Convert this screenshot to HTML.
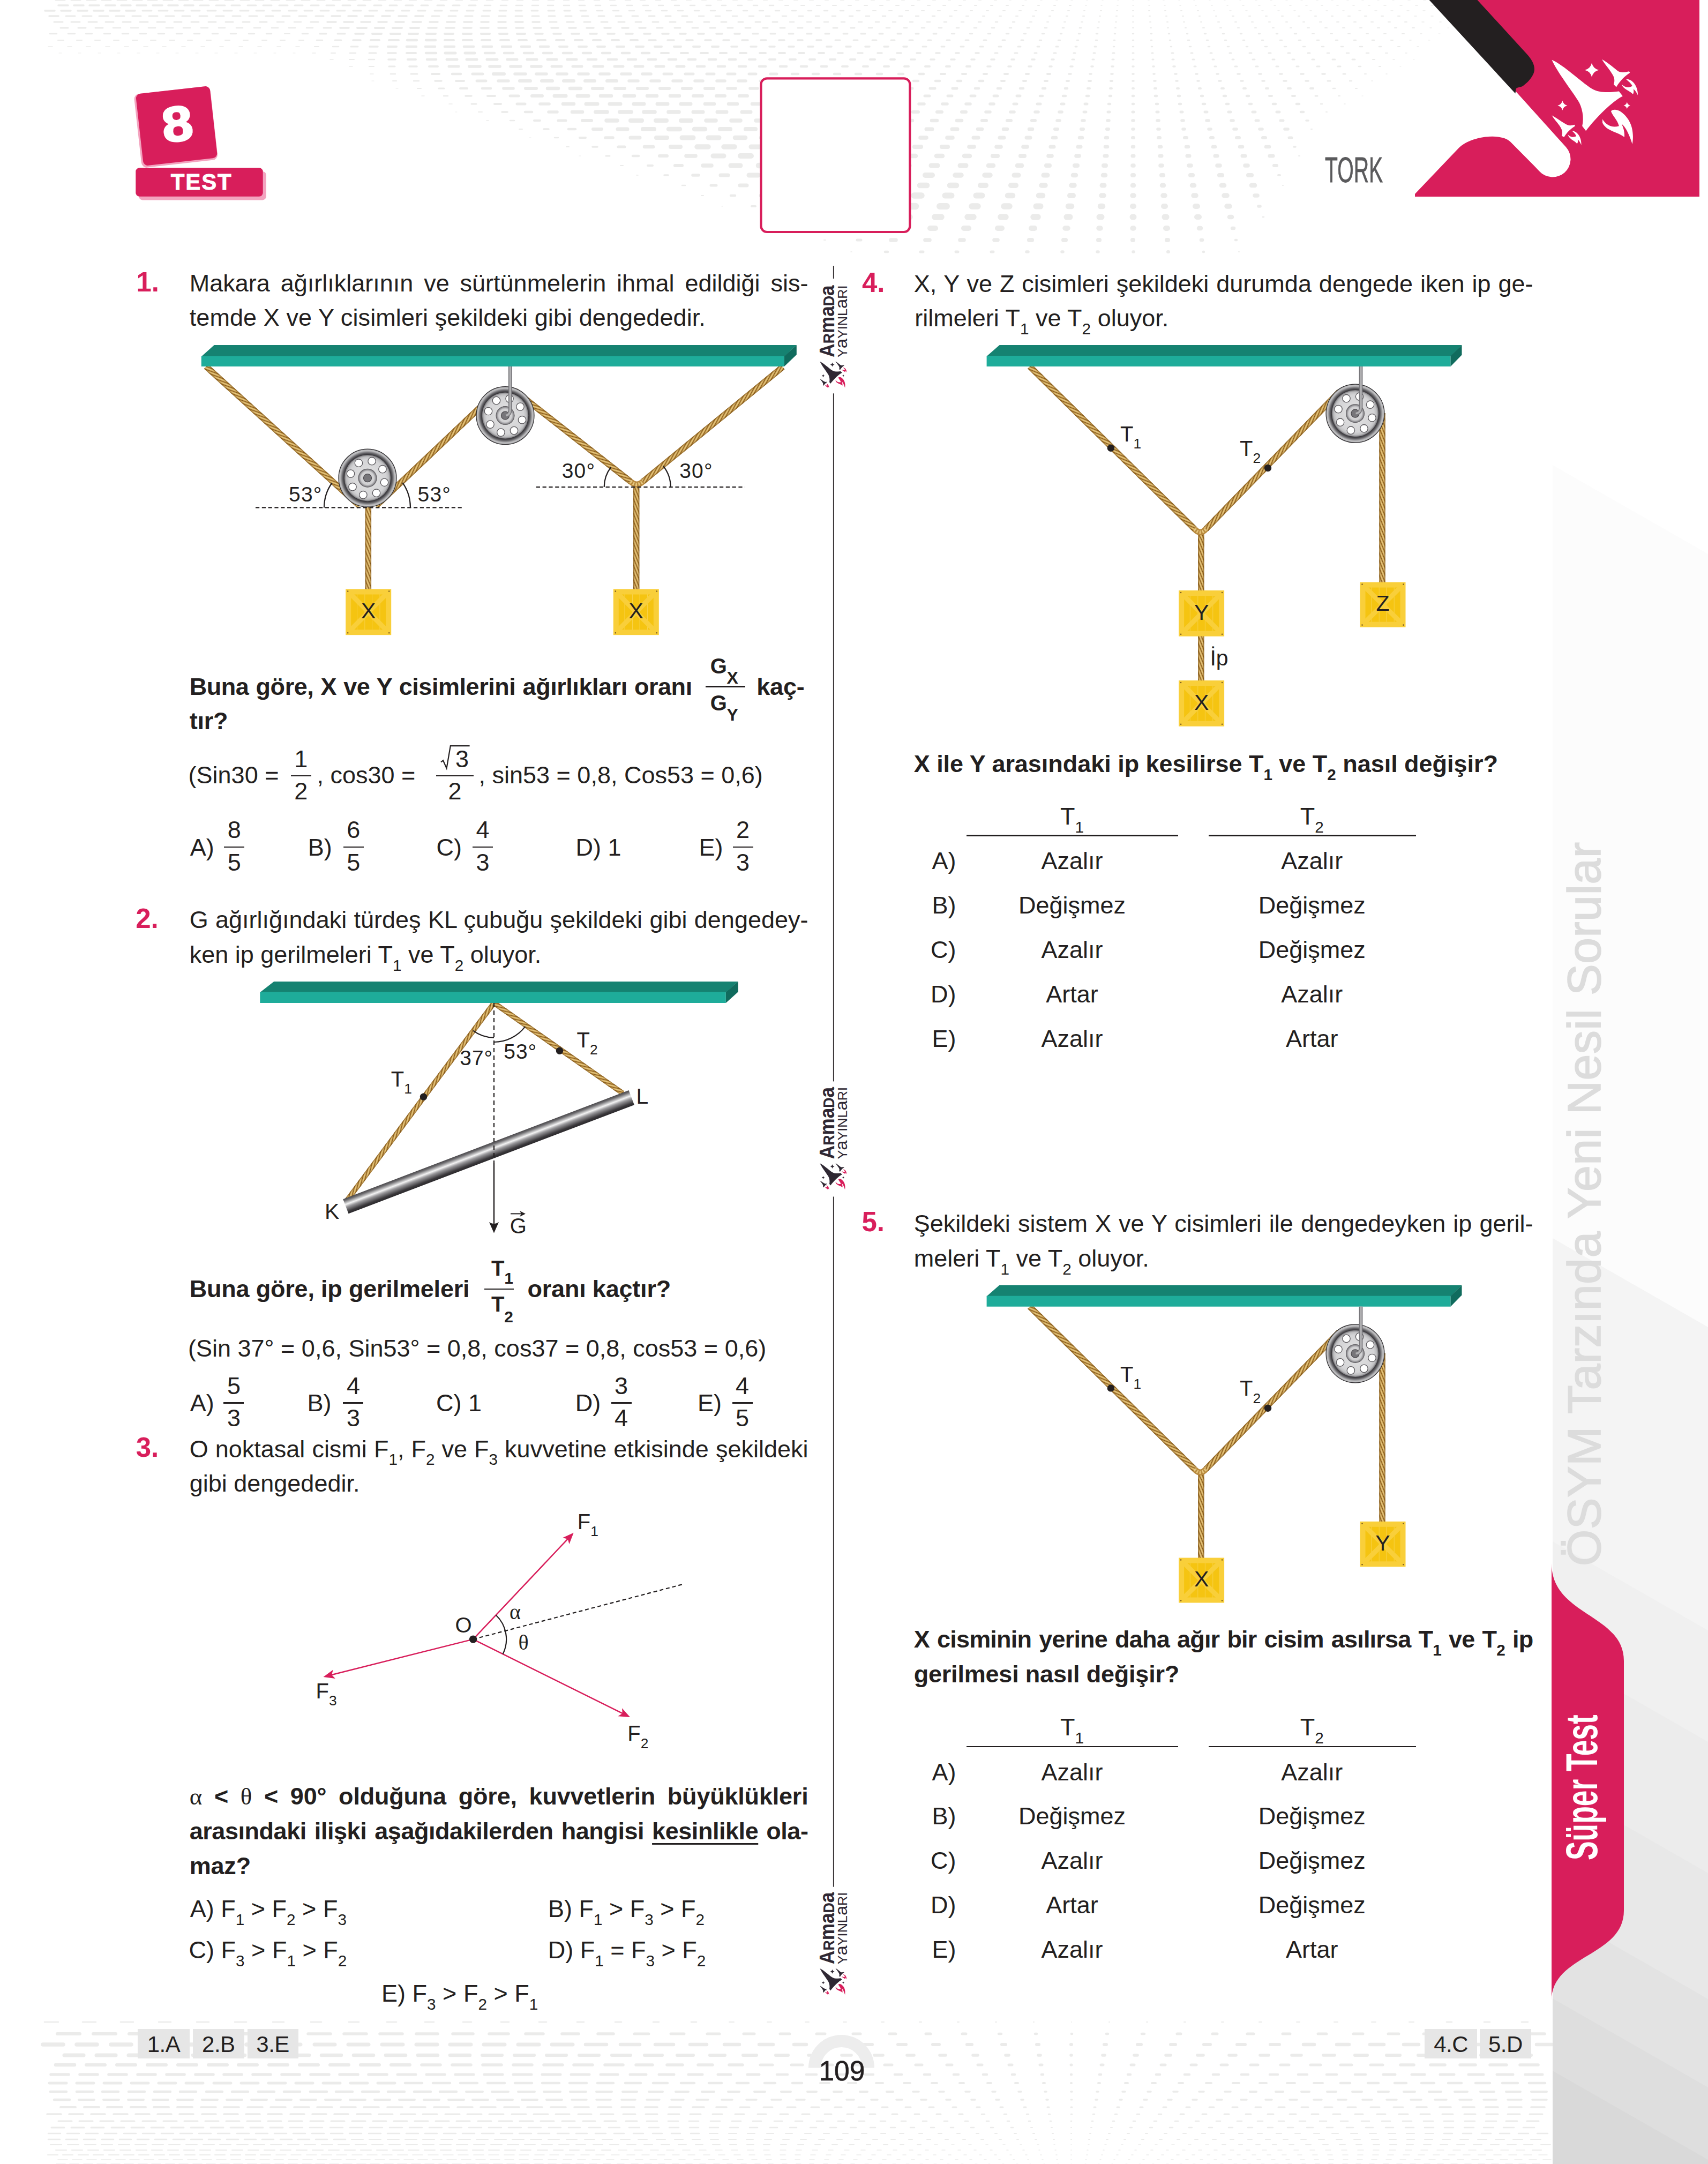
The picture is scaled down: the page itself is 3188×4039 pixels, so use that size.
<!DOCTYPE html>
<html lang="tr"><head><meta charset="utf-8"><title>Tork Test 8</title>
<style>
html,body{margin:0;padding:0;background:#fff}
body{width:3188px;height:4039px;position:relative;overflow:hidden;font-family:"Liberation Sans",sans-serif;color:#231f20}
.t{position:absolute;white-space:nowrap;font-family:"Liberation Sans",sans-serif;color:#231f20;letter-spacing:0px}
.j{white-space:nowrap;text-align:justify;text-align-last:justify}
.sb{font-size:0.66em;position:relative;top:0.5em;line-height:0}
.bar{position:absolute;background:#231f20}
svg{position:absolute;left:0;top:0}
svg text{font-family:"Liberation Sans",sans-serif;fill:#231f20}
</style></head><body>
<svg width="3188" height="4039" viewBox="0 0 3188 4039"><g fill="none" stroke="#ebebea" stroke-linecap="round"><path d="M2743 0h3M2771 0h3M2800 0h3M2829 0h3M2730 10h3M2760 10h3M2789 10h3M2717 20h3M2747 20h3M2778 20h3M2702 30h3M2734 30h3M2765 30h2M2719 41h2M2702 52h2M2685 63h3M2666 75h3M110 99h5M146 99h5M183 99h5M219 99h5M256 99h5M292 99h5M328 99h5M365 99h5M401 99h5M438 99h5M474 99h5M511 99h4M547 99h4M2638 111h2M2613 124h2M694 151h4M739 165h4M2542 179h2M850 209h3M988 257h3M1081 291h3M1347 385h2" stroke-width="1.0"/><path d="M1884 0h3M1913 0h3M1942 0h3M1971 0h3M1999 0h3M2028 0h2M2057 0h2M2086 0h2M2114 0h2M2143 0h2M2171 0h2M2200 0h2M2228 0h2M2257 0h2M2285 0h2M2314 0h2M2343 0h3M2371 0h3M2400 0h3M2428 0h3M2457 0h3M2485 0h3M2514 0h3M2542 0h3M2571 0h3M2599 0h3M2628 0h4M2657 0h4M2685 0h4M2714 0h4M2026 10h2M2055 10h2M2085 10h2M2114 10h2M2144 10h2M2173 10h2M2202 10h2M2231 10h2M2261 10h2M2290 10h2M2319 10h3M2349 10h3M2378 10h3M2407 10h3M2437 10h3M2466 10h3M2495 10h3M2525 10h3M2554 10h3M2583 10h4M2613 10h4M2642 10h4M2671 10h4M2701 10h4M2265 20h2M2295 20h3M2325 20h3M2355 20h3M2385 20h3M2415 20h3M2445 20h3M2475 20h3M2506 20h3M2536 20h4M2566 20h4M2596 20h4M2626 20h4M2656 20h4M2686 20h4M2640 30h4M2671 30h4M2654 41h4M2687 41h3M2669 52h3M2651 63h3M2631 75h3M90 87h8M126 87h8M161 87h8M197 87h8M232 87h8M268 87h8M303 87h7M339 87h7M375 87h7M410 87h7M446 87h7M481 87h7M517 87h7M552 87h7M2645 87h3M583 99h6M2623 99h3M616 111h6M2600 111h3M652 124h6M691 138h6M2587 138h2M2560 151h2M787 179h5M838 194h6M2509 194h2M908 225h4M1188 327h3M1588 470h2" stroke-width="1.5"/><path d="M1281 0h9M1310 0h8M1339 0h8M1368 0h8M1396 0h8M1425 0h7M1454 0h7M1482 0h7M1511 0h7M1540 0h6M1569 0h6M1597 0h6M1626 0h6M1655 0h5M1683 0h5M1712 0h5M1741 0h5M1770 0h4M1798 0h4M1827 0h4M1856 0h4M1465 10h7M1495 10h7M1524 10h7M1554 10h7M1583 10h6M1613 10h6M1642 10h6M1672 10h6M1701 10h5M1731 10h5M1760 10h5M1790 10h4M1819 10h4M1849 10h4M1878 10h4M1908 10h3M1937 10h3M1967 10h3M1996 10h3M1629 20h6M1659 20h6M1690 20h6M1720 20h5M1750 20h5M1781 20h5M1811 20h4M1841 20h4M1872 20h4M1902 20h4M1932 20h3M1963 20h3M1993 20h3M2023 20h2M2054 20h2M2084 20h2M2114 20h2M2144 20h2M2174 20h2M2204 20h2M2235 20h2M1772 30h5M1803 30h5M1834 30h4M1865 30h4M1896 30h4M1927 30h4M1958 30h3M1990 30h3M2021 30h3M2052 30h2M2083 30h2M2114 30h2M2145 30h2M2176 30h2M2207 30h2M2238 30h2M2269 30h2M2300 30h3M2331 30h3M2362 30h3M2392 30h3M2423 30h3M2454 30h3M2485 30h3M2516 30h4M2547 30h4M2578 30h4M2609 30h4M1922 41h4M1954 41h3M1986 41h3M2018 41h3M2050 41h2M2082 41h2M2114 41h2M2146 41h2M2178 41h2M2209 41h2M2241 41h2M2273 41h3M2305 41h3M2336 41h3M2368 41h3M2400 41h3M2432 41h3M2463 41h4M2495 41h4M2527 41h4M2559 41h4M2591 41h4M2622 41h4M2048 52h3M2081 52h2M2114 52h2M2147 52h2M2179 52h2M2212 52h2M2245 52h3M2277 52h3M2310 52h3M2342 52h3M2375 52h3M2408 52h3M2440 52h4M2473 52h4M2506 52h4M2538 52h4M2571 52h4M2603 52h4M2636 52h4M531 63h10M2449 63h4M2483 63h4M2516 63h4M2550 63h4M2583 63h4M2617 63h4M108 75h11M143 75h10M177 75h10M212 75h10M247 75h10M281 75h10M316 75h10M350 75h9M385 75h9M420 75h9M454 75h9M489 75h9M523 75h9M558 75h9M2596 75h4M587 87h8M2609 87h4M618 99h8M2586 99h4M652 111h9M2562 111h4M689 124h9M2574 124h3M2547 138h3M733 151h7M779 165h7M2530 165h3M2498 179h3M893 209h7M2475 209h2M969 241h6M2447 241h2M1057 274h5M2424 291h2M1158 309h5M2394 346h1M1309 365h4M1538 448h3M2312 470h1" stroke-width="2.0"/><path d="M707 0h13M736 0h13M764 0h13M793 0h13M822 0h12M851 0h12M879 0h12M908 0h12M937 0h11M965 0h11M994 0h11M1023 0h11M1052 0h10M1080 0h10M1109 0h10M1138 0h10M1167 0h10M1195 0h9M1224 0h9M1253 0h9M904 10h12M934 10h12M963 10h12M993 10h12M1022 10h11M1052 10h11M1081 10h11M1111 10h10M1140 10h10M1170 10h10M1200 10h10M1229 10h9M1259 10h9M1288 10h9M1318 10h9M1347 10h8M1377 10h8M1406 10h8M1436 10h8M1114 20h11M1144 20h11M1174 20h10M1205 20h10M1235 20h10M1265 20h10M1296 20h9M1326 20h9M1356 20h9M1387 20h8M1417 20h8M1447 20h8M1478 20h8M1508 20h7M1538 20h7M1568 20h7M1599 20h6M1304 30h10M1335 30h9M1367 30h9M1398 30h9M1429 30h8M1460 30h8M1491 30h8M1522 30h7M1553 30h7M1585 30h7M1616 30h7M1647 30h6M1678 30h6M1709 30h6M1740 30h5M517 41h13M549 41h13M1474 41h8M1506 41h8M1538 41h8M1570 41h7M1602 41h7M1634 41h7M1666 41h6M1698 41h6M1730 41h6M1762 41h5M1794 41h5M1826 41h5M1858 41h4M1890 41h4M211 52h14M244 52h14M277 52h13M310 52h13M342 52h13M375 52h13M408 52h12M441 52h12M474 52h12M507 52h12M539 52h12M572 52h12M1621 52h7M1654 52h7M1687 52h6M1720 52h6M1752 52h6M1785 52h5M1818 52h5M1851 52h5M1884 52h4M1917 52h4M1950 52h4M1983 52h3M2015 52h3M93 63h13M127 63h13M160 63h12M194 63h12M228 63h12M261 63h12M295 63h12M329 63h11M362 63h11M396 63h11M430 63h11M464 63h11M497 63h10M564 63h11M1776 63h6M1810 63h5M1844 63h5M1878 63h5M1911 63h4M1945 63h4M1979 63h3M2013 63h3M2046 63h3M2080 63h2M2114 63h2M2148 63h2M2181 63h2M2215 63h2M2248 63h3M2282 63h3M2315 63h3M2349 63h3M2382 63h3M2416 63h4M591 75h11M1940 75h4M1975 75h4M2010 75h3M2045 75h3M2079 75h2M2114 75h2M2148 75h2M2183 75h2M2217 75h3M2252 75h3M2286 75h3M2320 75h3M2355 75h3M2389 75h4M2424 75h4M2458 75h4M2493 75h4M2527 75h4M2561 75h4M621 87h11M2078 87h2M2114 87h2M2149 87h2M2185 87h2M2220 87h3M2255 87h3M2291 87h3M2326 87h3M2361 87h4M2397 87h4M2432 87h4M2467 87h4M2503 87h4M2538 87h5M2574 87h4M653 99h11M2477 99h4M2513 99h5M2550 99h5M688 111h11M2536 124h4M729 138h9M772 151h10M2519 151h4M2488 165h4M828 179h8M2465 194h3M952 225h8M1035 257h7M1273 346h6M2357 405h2M1490 426h4" stroke-width="2.5"/><path d="M104 0h17M133 0h17M162 0h17M190 0h17M219 0h17M248 0h17M276 0h17M305 0h17M334 0h17M362 0h16M391 0h16M420 0h16M449 0h16M477 0h15M506 0h15M535 0h15M563 0h15M592 0h14M621 0h14M650 0h14M678 0h14M373 10h17M403 10h17M432 10h16M462 10h16M491 10h16M521 10h16M550 10h15M580 10h15M609 10h15M639 10h15M668 10h14M698 10h14M727 10h14M757 10h14M786 10h13M816 10h13M845 10h13M875 10h13M266 20h17M296 20h17M326 20h17M357 20h16M387 20h16M417 20h16M448 20h16M478 20h15M508 20h15M539 20h15M568 20h15M598 20h16M629 20h15M659 20h15M689 20h15M720 20h15M750 20h14M780 20h14M811 20h14M841 20h13M871 20h13M902 20h13M932 20h13M962 20h12M992 20h12M1023 20h12M1053 20h11M1083 20h11M123 30h17M154 30h17M185 30h17M216 30h16M247 30h16M278 30h16M309 30h16M340 30h15M372 30h15M403 30h15M434 30h15M465 30h15M496 30h14M527 30h14M558 30h14M589 30h15M806 30h14M837 30h14M868 30h14M899 30h14M931 30h13M962 30h13M993 30h13M1024 30h12M1055 30h12M1086 30h12M1117 30h11M1149 30h11M1180 30h11M1211 30h11M1242 30h10M1273 30h10M101 41h16M133 41h16M165 41h16M197 41h15M229 41h15M261 41h15M293 41h15M325 41h14M357 41h14M389 41h14M421 41h14M453 41h13M485 41h13M580 41h14M1026 41h13M1058 41h13M1090 41h12M1122 41h12M1154 41h12M1186 41h11M1218 41h11M1250 41h11M1282 41h10M1314 41h10M1346 41h10M1378 41h9M1410 41h9M1442 41h9M113 52h14M146 52h14M178 52h14M604 52h14M1226 52h11M1259 52h11M1292 52h11M1325 52h10M1358 52h10M1391 52h10M1424 52h9M1456 52h9M1489 52h9M1522 52h8M1555 52h8M1588 52h7M597 63h12M630 63h14M1405 63h10M1438 63h9M1472 63h9M1506 63h9M1540 63h8M1574 63h8M1607 63h8M1641 63h7M1675 63h7M1709 63h6M1742 63h6M625 75h12M1559 75h9M1593 75h8M1628 75h8M1663 75h7M1697 75h7M1732 75h6M1767 75h6M1802 75h6M1836 75h5M1871 75h5M1906 75h4M655 87h13M1722 87h7M1757 87h6M1793 87h6M1829 87h6M1864 87h5M1900 87h5M1936 87h4M1971 87h4M2007 87h3M2043 87h3M689 99h13M1857 99h5M1894 99h5M1931 99h4M1967 99h4M2004 99h3M2041 99h3M2077 99h3M2114 99h2M2150 99h2M2187 99h3M2223 99h3M2259 99h3M2295 99h3M2332 99h4M2368 99h4M2404 99h4M2441 99h4M2001 111h4M2039 111h3M2076 111h3M2114 111h2M2151 111h2M2188 111h3M2226 111h3M2263 111h3M2300 111h3M2338 111h4M2375 111h4M2412 111h4M2449 111h4M2487 111h5M2524 111h5M726 124h11M2229 124h3M2267 124h3M2305 124h4M2344 124h4M2382 124h4M2420 124h4M2458 124h5M2497 124h5M767 138h12M2507 138h4M2478 151h5M819 165h10M2455 179h4M880 194h9M1131 291h7" stroke-width="3.0"/><path d="M109 10h18M138 10h18M167 10h18M197 10h18M226 10h18M255 10h18M285 10h18M314 10h18M344 10h17M84 20h18M114 20h18M145 20h18M175 20h18M205 20h18M235 20h17M92 30h17M619 30h16M650 30h16M681 30h16M713 30h15M744 30h15M775 30h15M611 41h16M642 41h17M674 41h17M706 41h16M738 41h16M770 41h16M802 41h15M834 41h15M866 41h15M898 41h14M930 41h14M962 41h14M994 41h13M635 52h16M799 52h16M832 52h16M865 52h15M897 52h15M930 52h15M963 52h14M996 52h14M1029 52h13M1062 52h13M1095 52h13M1128 52h12M1161 52h12M1193 52h12M663 63h16M999 63h14M1033 63h14M1067 63h14M1101 63h13M1134 63h13M1168 63h13M1202 63h12M1236 63h12M1269 63h11M1303 63h11M1337 63h11M1371 63h10M659 75h14M1211 75h13M1246 75h12M1281 75h12M1316 75h11M1350 75h11M1385 75h11M1420 75h10M1454 75h10M1489 75h9M1524 75h9M690 87h15M1365 87h11M1401 87h11M1436 87h10M1472 87h10M1508 87h10M1543 87h9M1579 87h9M1615 87h8M1650 87h8M1686 87h7M724 99h15M1564 99h9M1601 99h9M1638 99h8M1674 99h8M1711 99h7M1747 99h7M1784 99h6M1821 99h6M725 111h13M1700 111h8M1737 111h7M1775 111h7M1813 111h6M1850 111h6M1888 111h5M1926 111h5M1963 111h4M764 124h14M1843 124h6M1882 124h5M1920 124h5M1959 124h4M1998 124h4M2037 124h3M2075 124h3M2114 124h2M2152 124h2M2190 124h3M1995 138h4M2034 138h3M2074 138h3M2114 138h2M2153 138h2M2193 138h3M2232 138h3M2271 138h3M2310 138h4M2350 138h4M2389 138h4M2428 138h5M2468 138h5M812 151h12M2114 151h2M2154 151h3M2195 151h3M2235 151h3M2275 151h4M2316 151h4M2356 151h4M2396 151h5M2437 151h5M869 179h11M937 209h10M2438 225h4M1015 241h9M1106 274h9M2415 274h3M1240 327h7M1445 405h5" stroke-width="3.5"/><path d="M667 52h17M700 52h17M733 52h17M766 52h16M695 63h17M729 63h18M763 63h17M796 63h17M830 63h16M864 63h16M898 63h16M932 63h15M965 63h15M692 75h16M726 75h18M830 75h17M864 75h17M899 75h16M934 75h16M968 75h15M1003 75h15M1038 75h15M1073 75h14M1107 75h14M1142 75h13M1177 75h13M724 87h16M1044 87h15M1080 87h15M1115 87h14M1151 87h14M1187 87h14M1222 87h13M1258 87h13M1294 87h12M1329 87h12M759 99h17M1234 99h14M1271 99h13M1308 99h13M1344 99h12M1381 99h12M1418 99h11M1454 99h11M1491 99h10M1528 99h10M761 111h15M1398 111h12M1436 111h11M1474 111h11M1511 111h10M1549 111h10M1587 111h9M1624 111h9M1662 111h8M801 124h16M1572 124h10M1611 124h9M1650 124h9M1688 124h8M1727 124h8M1766 124h7M1804 124h7M806 138h14M1756 138h8M1796 138h7M1836 138h6M1875 138h6M1915 138h5M1955 138h5M851 151h15M1869 151h6M1910 151h5M1950 151h5M1991 151h4M2032 151h4M2073 151h3M859 165h13M2030 165h4M2072 165h3M2114 165h2M2155 165h3M2197 165h3M2238 165h3M2280 165h4M2321 165h4M2363 165h4M2404 165h5M2446 165h5M910 179h14M2369 179h5M2412 179h5M923 194h12M997 225h11M1082 257h11M1209 309h9M2386 327h3M1403 385h7" stroke-width="4.0"/><path d="M760 75h18M795 75h18M759 87h18M794 87h18M830 87h18M866 87h18M901 87h17M937 87h17M973 87h16M1008 87h16M795 99h19M905 99h18M941 99h17M978 99h17M1014 99h16M1051 99h16M1088 99h15M1124 99h15M1161 99h14M1198 99h14M797 111h17M1097 111h16M1135 111h16M1172 111h15M1210 111h14M1248 111h14M1285 111h13M1323 111h13M1361 111h12M1301 124h14M1340 124h13M1379 124h13M1417 124h12M1456 124h12M1495 124h11M1533 124h10M844 138h16M1478 138h12M1517 138h11M1557 138h11M1597 138h10M1637 138h9M1677 138h9M1716 138h8M1664 151h9M1705 151h9M1746 151h8M1787 151h7M1828 151h7M900 165h16M1820 165h7M1862 165h6M1904 165h6M1946 165h5M1988 165h4M1941 179h5M1984 179h5M2028 179h4M2071 179h3M2114 179h2M2156 179h3M2199 179h3M2242 179h3M2284 179h4M2327 179h4M2069 194h3M2114 194h2M2158 194h3M2201 194h3M2245 194h4M2289 194h4M2332 194h4M2376 194h5M2420 194h5M980 209h13M2428 209h5M1061 241h13M1181 291h11M1364 365h8M2306 448h2M1652 470h5M2246 470h1" stroke-width="4.5"/><path d="M831 99h19M868 99h18M834 111h19M871 111h19M909 111h19M947 111h18M984 111h18M1022 111h17M1059 111h17M838 124h18M1030 124h18M1069 124h17M1108 124h17M1147 124h16M1185 124h15M1224 124h15M1263 124h14M882 138h19M1239 138h15M1279 138h15M1319 138h14M1358 138h14M1398 138h13M1438 138h12M890 151h17M1419 151h13M1460 151h13M1501 151h12M1542 151h11M1583 151h11M1624 151h10M1568 165h11M1610 165h11M1652 165h10M1694 165h9M1736 165h9M1778 165h8M952 179h16M1726 179h9M1769 179h8M1812 179h8M1855 179h7M1898 179h6M965 194h15M1892 194h6M1936 194h6M1981 194h5M2025 194h4M2023 209h4M2068 209h3M2114 209h2M2159 209h3M2204 209h3M2249 209h4M2293 209h4M2338 209h5M2383 209h5M1042 225h14M2344 225h5M2390 225h5M2406 257h5M1154 274h12M1327 346h10M1600 448h7M1718 470h5M1784 470h4M1850 470h4" stroke-width="5.0"/><path d="M876 124h20M914 124h19M953 124h19M992 124h18M961 138h20M1001 138h19M1040 138h18M1080 138h18M1120 138h17M1160 138h17M1199 138h16M930 151h19M1174 151h17M1215 151h16M1256 151h16M1297 151h15M1338 151h15M1378 151h14M940 165h18M1358 165h15M1400 165h14M1442 165h13M1484 165h13M1526 165h12M1510 179h13M1553 179h12M1596 179h11M1639 179h11M1682 179h10M1008 194h17M1670 194h10M1715 194h10M1759 194h9M1803 194h8M1848 194h7M1024 209h16M1840 209h8M1886 209h7M1932 209h6M1977 209h5M1973 225h5M2020 225h4M2067 225h3M2114 225h2M2160 225h3M2206 225h3M2252 225h4M2298 225h4M2114 241h2M2161 241h3M2208 241h3M2256 241h4M2303 241h5M2351 241h5M2398 241h6M1130 257h14M1293 327h11M2349 385h3M1551 426h8M1916 470h3M1982 470h2M2048 470h2M2115 470h1" stroke-width="5.5"/><path d="M921 138h20M970 151h20M1011 151h20M1052 151h19M1092 151h18M1133 151h18M981 165h20M1106 165h19M1148 165h18M1190 165h18M1232 165h17M1274 165h16M1316 165h16M993 179h19M1294 179h17M1337 179h16M1380 179h15M1423 179h14M1467 179h14M1493 194h14M1537 194h13M1582 194h12M1626 194h11M1658 209h11M1704 209h10M1749 209h9M1795 209h8M1087 225h17M1833 225h8M1880 225h7M1926 225h6M1107 241h16M1969 241h5M2018 241h4M2066 241h3M2114 257h2M2162 257h3M2211 257h4M2260 257h4M2308 257h5M2357 257h5M1231 291h14M1260 309h13M2378 309h5M1504 405h9M2180 470h1" stroke-width="6.0"/><path d="M1022 165h20M1064 165h20M1121 179h20M1165 179h19M1208 179h18M1251 179h17M1051 194h20M1316 194h17M1360 194h16M1404 194h15M1449 194h15M1068 209h19M1476 209h15M1521 209h14M1567 209h13M1613 209h12M1646 225h12M1692 225h11M1739 225h10M1786 225h9M1825 241h8M1873 241h7M1921 241h6M1965 257h6M2015 257h5M2064 257h3M1203 274h16M2063 274h4M2114 274h2M2164 274h3M2214 274h4M2264 274h4M2314 274h5M2363 274h6M1420 365h12M1461 385h10M2300 426h3M2242 448h2" stroke-width="6.5"/><path d="M1035 179h21M1078 179h20M1094 194h21M1138 194h20M1183 194h19M1227 194h19M1271 194h18M1294 209h18M1339 209h17M1385 209h16M1430 209h15M1458 225h16M1505 225h15M1552 225h14M1599 225h13M1153 241h18M1633 241h13M1681 241h12M1729 241h11M1777 241h10M1177 257h17M1817 257h9M1866 257h8M1916 257h7M1961 274h6M2012 274h5M2062 291h4M2114 291h2M2165 291h3M2216 291h4M2268 291h4M2319 291h5M2370 291h6M1345 327h14M1381 346h13" stroke-width="7.0"/><path d="M1112 209h21M1157 209h21M1202 209h20M1248 209h19M1132 225h20M1318 225h18M1365 225h17M1411 225h17M1488 241h16M1536 241h15M1584 241h14M1669 257h12M1718 257h11M1768 257h10M1809 274h9M1860 274h8M1910 274h7M1281 291h17M1957 291h6M2009 291h5M1312 309h16M2114 309h2M2166 309h3M2219 309h4M2272 309h5M2324 309h5M2342 365h5M1663 448h9M1727 448h8M1792 448h7M1856 448h6" stroke-width="7.5"/><path d="M1177 225h21M1224 225h20M1271 225h19M1200 241h21M1344 241h19M1392 241h18M1440 241h17M1225 257h20M1520 257h16M1570 257h14M1619 257h13M1252 274h18M1656 274h13M1707 274h12M1758 274h11M1853 291h9M1905 291h7M1953 309h6M2006 309h5M2060 309h4M2114 327h2M2168 327h3M2222 327h4M2276 327h5M2330 327h6M1921 448h5M1985 448h4M2050 448h2M2114 448h1M2178 448h2" stroke-width="8.0"/><path d="M1248 241h21M1296 241h20M1372 257h19M1421 257h18M1471 257h17M1555 274h15M1605 274h14M1696 291h13M1748 291h11M1800 291h10M1845 309h9M1899 309h8M2003 327h5M2059 327h4M2114 346h2M2169 346h3M2225 346h4M2280 346h5M2336 346h6M1518 385h13M1563 405h12M2295 405h4M1611 426h11M2238 426h3" stroke-width="8.5"/><path d="M1273 257h21M1322 257h20M1402 274h19M1453 274h18M1504 274h17M1331 291h20M1591 291h15M1644 291h14M1364 309h18M1738 309h12M1792 309h11M1398 327h17M1893 327h8M1948 327h7M1436 346h16M2057 346h4M1476 365h15" stroke-width="9.0"/><path d="M1301 274h21M1351 274h20M1435 291h19M1487 291h18M1539 291h16M1631 309h15M1684 309h13M1783 327h11M1838 327h10M1944 346h7M2000 346h5M2056 365h4M2114 365h2M2171 365h3M2228 365h4M2285 365h5M2290 385h5M1988 426h5M2051 426h3M2114 426h2" stroke-width="9.5"/><path d="M1382 291h20M1469 309h19M1523 309h17M1577 309h16M1672 327h14M1727 327h13M1830 346h10M1887 346h9M1997 365h6M2114 385h2M2172 385h3M2231 385h4M2234 405h4M1673 426h11M1736 426h10M1799 426h9M1862 426h8M1925 426h6M2176 426h3" stroke-width="10.0"/><path d="M1416 309h20M1562 327h17M1617 327h16M1717 346h13M1773 346h12M1881 365h9M1939 365h7M1994 385h6M2054 385h4" stroke-width="10.5"/><path d="M1452 327h20M1507 327h19M1491 346h18M1603 346h17M1660 346h15M1532 365h17M1764 365h12M1822 365h11M1576 385h16M1934 385h8M1623 405h14M1991 405h6M2052 405h4M2114 405h2M2174 405h3" stroke-width="11.0"/><path d="M1547 346h18M1706 365h14M1814 385h11M1874 385h10M1684 405h14M1745 405h12M1806 405h11M1868 405h9M1929 405h8" stroke-width="11.5"/><path d="M1589 365h18M1647 365h16M1754 385h13" stroke-width="12.0"/><path d="M1634 385h17M1694 385h15" stroke-width="12.5"/></g><g fill="none" stroke="#ebebea" stroke-linecap="round"><path d="M1614 4039h7M1640 4039h6M1666 4039h6M1691 4039h6M1717 4039h5M1743 4039h5M1768 4039h4M1794 4039h4M1820 4039h4M1845 4039h3M1871 4039h3M1897 4039h3M1922 4039h2M1948 4039h2M1974 4039h2M1999 4039h1M2025 4039h2M2050 4039h2M2075 4039h2M2101 4039h3M2126 4039h3M2151 4039h3M2177 4039h4M2202 4039h4M2227 4039h4M2253 4039h5M2278 4039h5M2303 4039h6M2329 4039h6M2354 4039h6M2379 4039h7" stroke-width="1.0"/><path d="M105 4039h17M130 4039h17M156 4039h17M181 4039h17M207 4039h17M232 4039h17M258 4039h17M283 4039h17M309 4039h17M334 4039h17M360 4039h17M385 4039h17M411 4039h17M436 4039h17M462 4039h17M487 4039h17M513 4039h17M538 4039h17M564 4039h17M589 4039h17M615 4039h17M640 4039h17M666 4039h17M691 4039h17M717 4039h17M742 4039h17M768 4039h17M793 4039h17M819 4039h17M844 4039h17M870 4039h17M895 4039h17M921 4039h17M946 4039h16M972 4039h16M998 4039h16M1023 4039h15M1049 4039h15M1075 4039h14M1100 4039h14M1126 4039h14M1152 4039h13M1178 4039h13M1203 4039h13M1229 4039h12M1255 4039h12M1280 4039h12M1306 4039h11M1332 4039h11M1357 4039h10M1383 4039h10M1409 4039h10M1434 4039h9M1460 4039h9M1486 4039h9M1511 4039h8M1537 4039h8M1563 4039h7M1588 4039h7M2404 4039h7M2430 4039h7M2455 4039h8M2480 4039h8M2506 4039h9M2531 4039h9M2556 4039h9M2582 4039h10M2607 4039h10M2632 4039h10M2658 4039h11M2683 4039h11M2708 4039h12M2734 4039h12M2759 4039h12M2784 4039h13M2810 4039h13M2835 4039h13M2860 4039h14M108 4031h18M135 4031h18M162 4031h18M189 4031h18M216 4031h18M242 4031h18M269 4031h18M296 4031h18M323 4031h18M350 4031h18M377 4031h18M404 4031h18M431 4031h18M458 4031h18M485 4031h18M511 4031h18M538 4031h18M565 4031h18M592 4031h18M619 4031h18M646 4031h18M673 4031h18M700 4031h18M727 4031h18M754 4031h18M780 4031h18M807 4031h18M834 4031h18M861 4031h18M888 4031h18M915 4031h18M942 4031h17M969 4031h17M996 4031h17M1023 4031h16M1051 4031h16M1078 4031h15M1105 4031h15M1132 4031h14M1159 4031h14M1186 4031h14M1213 4031h13M1240 4031h13M1267 4031h12M1295 4031h12M1322 4031h12M1349 4031h11M1376 4031h11M1403 4031h10M1430 4031h10M1457 4031h10M1484 4031h9M1511 4031h9M1539 4031h8M1566 4031h8M1593 4031h7M1620 4031h7M1647 4031h7M1674 4031h6M1701 4031h6M1728 4031h5M1755 4031h5M1783 4031h5M1810 4031h4M1837 4031h4M1864 4031h3M1891 4031h3M1918 4031h2M1945 4031h2M1972 4031h2M1999 4031h1M2026 4031h2M2053 4031h2M2079 4031h2M2106 4031h3M2133 4031h3M2160 4031h4M2186 4031h4M2213 4031h5M2240 4031h5M2266 4031h5M2293 4031h6M2320 4031h6M2346 4031h7M2373 4031h7M2400 4031h7M2427 4031h8M2453 4031h8M2480 4031h9M2507 4031h9M2533 4031h10M2560 4031h10M2587 4031h10M2613 4031h11M2640 4031h11M2667 4031h12M2693 4031h12M2720 4031h12M2747 4031h13M2774 4031h13M2800 4031h14M2827 4031h14M2854 4031h14M2880 4031h15M515 4022h19M543 4022h19M572 4022h19M600 4022h19M628 4022h19M657 4022h19M685 4022h19M713 4022h19M742 4022h19M770 4022h19M799 4022h19M827 4022h19M855 4022h19M884 4022h19M912 4022h19M941 4022h19M969 4022h18M998 4022h18M1026 4022h17M1055 4022h17M1084 4022h16M1112 4022h16M1141 4022h15M1170 4022h15M1198 4022h14M1227 4022h14M1255 4022h13M1284 4022h13M1313 4022h12M1341 4022h12M1370 4022h12M1398 4022h11M1427 4022h11M1456 4022h10M1484 4022h10M1513 4022h9M1542 4022h9M1570 4022h8M1599 4022h8M1627 4022h7M1656 4022h7M1685 4022h6M1713 4022h6M1742 4022h5M1770 4022h5M1799 4022h5M1828 4022h4M1856 4022h4M1885 4022h3M1914 4022h3M1942 4022h2M1971 4022h2M1999 4022h1M2028 4022h2M2056 4022h2M2084 4022h3M2112 4022h3M2140 4022h4M2168 4022h4M2196 4022h5M2225 4022h5M2253 4022h5M2281 4022h6M2309 4022h6M2337 4022h7M2365 4022h7M2393 4022h8M2422 4022h8M2450 4022h9M2478 4022h9M2506 4022h10M2534 4022h10M2562 4022h11M2590 4022h11M2619 4022h12M2647 4022h12M2675 4022h12M2703 4022h13M2731 4022h13M2759 4022h14M2788 4022h14M2816 4022h15M2844 4022h15M2872 4022h16M1154 4013h16M1184 4013h15M1214 4013h15M1244 4013h14M1274 4013h14M1305 4013h13M1335 4013h13M1365 4013h12M1395 4013h12M1425 4013h11M1456 4013h11M1486 4013h10M1516 4013h10M1546 4013h9M1576 4013h9M1607 4013h8M1637 4013h8M1667 4013h7M1697 4013h7M1727 4013h6M1758 4013h6M1788 4013h5M1818 4013h4M1848 4013h4M1879 4013h3M1909 4013h3M1939 4013h2M1969 4013h2M1999 4013h1M2029 4013h2M2059 4013h2M2088 4013h3M2118 4013h3M2148 4013h4M2177 4013h4M2207 4013h5M2237 4013h6M2266 4013h6M2296 4013h7M2326 4013h7M2356 4013h8M2385 4013h8M2415 4013h9M2445 4013h9M2474 4013h10M2504 4013h10M2534 4013h11M2563 4013h11M2593 4013h12M2623 4013h12M2652 4013h13M2682 4013h13M2712 4013h14M2741 4013h14M2771 4013h15M2801 4013h15M2830 4013h16M1744 4003h6M1776 4003h5M1808 4003h5M1840 4003h4M1872 4003h4M1904 4003h3M1936 4003h3M1967 4003h2M1999 4003h1M2031 4003h2M2062 4003h3M2093 4003h3M2125 4003h4M2156 4003h4M2187 4003h5M2218 4003h5M2250 4003h6" stroke-width="1.5"/><path d="M89 4022h19M117 4022h19M146 4022h19M174 4022h19M203 4022h19M231 4022h19M259 4022h19M288 4022h19M316 4022h19M345 4022h19M373 4022h19M401 4022h19M430 4022h19M458 4022h19M486 4022h19M104 4013h20M134 4013h20M164 4013h20M194 4013h20M224 4013h20M254 4013h20M283 4013h20M313 4013h20M343 4013h20M373 4013h20M403 4013h20M433 4013h20M463 4013h20M493 4013h20M523 4013h20M553 4013h20M583 4013h20M613 4013h20M643 4013h20M673 4013h20M703 4013h20M733 4013h20M762 4013h20M792 4013h20M822 4013h20M852 4013h20M882 4013h20M912 4013h20M942 4013h20M972 4013h19M1003 4013h19M1033 4013h18M1063 4013h18M1093 4013h17M1123 4013h17M2860 4013h17M94 4003h21M126 4003h21M158 4003h21M189 4003h21M221 4003h21M252 4003h21M284 4003h21M315 4003h21M347 4003h21M379 4003h21M410 4003h21M442 4003h21M473 4003h21M505 4003h21M537 4003h21M568 4003h21M600 4003h21M631 4003h21M663 4003h21M694 4003h21M726 4003h21M758 4003h21M789 4003h21M821 4003h21M852 4003h21M884 4003h21M916 4003h21M947 4003h21M979 4003h20M1011 4003h20M1043 4003h19M1075 4003h18M1107 4003h18M1138 4003h17M1170 4003h17M1202 4003h16M1234 4003h16M1266 4003h15M1298 4003h14M1330 4003h14M1362 4003h13M1394 4003h13M1425 4003h12M1457 4003h11M1489 4003h11M1521 4003h10M1553 4003h10M1585 4003h9M1617 4003h8M1649 4003h8M1680 4003h7M1712 4003h7M2281 4003h7M2312 4003h7M2344 4003h8M2375 4003h8M2406 4003h9M2437 4003h10M2469 4003h10M2500 4003h11M2531 4003h11M2563 4003h12M2594 4003h13M2625 4003h13M2657 4003h14M2688 4003h14M2719 4003h15M2750 4003h16M2782 4003h16M2813 4003h17M2844 4003h17M2876 4003h18M656 3993h22M689 3993h22M723 3993h22M756 3993h22M789 3993h22M823 3993h22M856 3993h22M889 3993h22M923 3993h22M956 3993h22M990 3993h21M1023 3993h21M1057 3993h20M1091 3993h19M1124 3993h19M1158 3993h18M1191 3993h17M1225 3993h17M1259 3993h16M1292 3993h15M1326 3993h15M1360 3993h14M1393 3993h13M1427 3993h13M1461 3993h12M1494 3993h11M1528 3993h11M1562 3993h10M1595 3993h9M1629 3993h9M1663 3993h8M1696 3993h7M1730 3993h7M1764 3993h6M1797 3993h5M1831 3993h5M1865 3993h4M1898 3993h3M1932 3993h3M1966 3993h2M1999 3993h1M2032 3993h2M2065 3993h3M2098 3993h3M2131 3993h4M2164 3993h5M2197 3993h5M2230 3993h6M2263 3993h7M2296 3993h7M2329 3993h8M2362 3993h9M2395 3993h9M2428 3993h10M2461 3993h11M2494 3993h11M2527 3993h12M2560 3993h13M2593 3993h13M2626 3993h14M2659 3993h15M2692 3993h15M2725 3993h16M2758 3993h17M2791 3993h17M2824 3993h18M2857 3993h19M1324 3982h16M1360 3982h15M1395 3982h14M1431 3982h13M1466 3982h13M1502 3982h12M1537 3982h11M1573 3982h10M1608 3982h10M1644 3982h9M1679 3982h8M1715 3982h7M1751 3982h7M1786 3982h6M1822 3982h5M1857 3982h4M1893 3982h4M1928 3982h3M1964 3982h2M1999 3982h1M2034 3982h2M2069 3982h3M2104 3982h4M2138 3982h4M2173 3982h5M2208 3982h6M2243 3982h7M2278 3982h7M2312 3982h8M2347 3982h9M2382 3982h10M2417 3982h10M2452 3982h11M2486 3982h12M2521 3982h13M2556 3982h13M2591 3982h14M2625 3982h15M2660 3982h16M1924 3971h3M1962 3971h2M1999 3971h1M2036 3971h2M2073 3971h3M1361 3774h9M1432 3774h8M1503 3774h7M1574 3774h6M1645 3774h5M1716 3774h4M1787 3774h3M1858 3774h2M1929 3774h1M2000 3774h0M2070 3774h1M2140 3774h2M2210 3774h3M2280 3774h4M2350 3774h5M2420 3774h6M2490 3774h7M2560 3774h8M2630 3774h9" stroke-width="2.0"/><path d="M90 3993h22M123 3993h22M156 3993h22M190 3993h22M223 3993h22M256 3993h22M289 3993h22M323 3993h22M356 3993h22M389 3993h22M423 3993h22M456 3993h22M489 3993h22M523 3993h22M556 3993h22M589 3993h22M623 3993h22M90 3982h23M125 3982h23M160 3982h23M195 3982h23M231 3982h23M266 3982h23M301 3982h23M336 3982h23M371 3982h23M406 3982h23M442 3982h23M477 3982h23M512 3982h23M547 3982h23M582 3982h23M617 3982h23M652 3982h23M688 3982h23M723 3982h23M758 3982h23M793 3982h23M828 3982h23M863 3982h23M899 3982h23M934 3982h23M969 3982h23M1004 3982h22M1040 3982h22M1075 3982h21M1111 3982h20M1146 3982h19M1182 3982h19M1218 3982h18M1253 3982h17M1289 3982h16M2695 3982h16M2730 3982h17M2765 3982h18M2799 3982h19M2834 3982h19M2869 3982h20M541 3971h24M578 3971h24M616 3971h24M653 3971h24M690 3971h24M727 3971h24M764 3971h24M801 3971h24M838 3971h24M875 3971h24M912 3971h24M949 3971h24M986 3971h24M1024 3971h23M1061 3971h22M1099 3971h22M1136 3971h21M1174 3971h20M1211 3971h19M1249 3971h18M1287 3971h17M1324 3971h17M1362 3971h16M1399 3971h15M1437 3971h14M1474 3971h13M1512 3971h12M1549 3971h12M1587 3971h11M1624 3971h10M1662 3971h9M1699 3971h8M1737 3971h7M1774 3971h6M1812 3971h6M1849 3971h5M1887 3971h4M2109 3971h4M2146 3971h5M2183 3971h6M2219 3971h6M2256 3971h7M2293 3971h8M2329 3971h9M2366 3971h10M2403 3971h11M2439 3971h12M2476 3971h12M2513 3971h13M2549 3971h14M2586 3971h15M2623 3971h16M2659 3971h17M2696 3971h17M2733 3971h18M2769 3971h19M2806 3971h20M2843 3971h21M1207 3959h20M1247 3959h19M1286 3959h18M1326 3959h18M1366 3959h17M1405 3959h16M1445 3959h15M1484 3959h14M1524 3959h13M1564 3959h12M1603 3959h11M1643 3959h10M1682 3959h9M1722 3959h8M1762 3959h7M1801 3959h6M1841 3959h5M1880 3959h4M1920 3959h3M1960 3959h2M1999 3959h1M2038 3959h2M2077 3959h3M2115 3959h4M2154 3959h5M2193 3959h6M2231 3959h7M2270 3959h8M2309 3959h9M2347 3959h10M2386 3959h11M2425 3959h12M2463 3959h13M2502 3959h14M2541 3959h15M2579 3959h16M2618 3959h17M2657 3959h18M2695 3959h18M2734 3959h19M2773 3959h20M1832 3946h6M1874 3946h5M1916 3946h4M1957 3946h3M1999 3946h2M2040 3946h3M2081 3946h4M2122 3946h5M2162 3946h6M83 3774h26M154 3774h25M225 3774h24M296 3774h23M367 3774h23M438 3774h22M509 3774h21M580 3774h20M651 3774h19M722 3774h18M793 3774h17M864 3774h16M935 3774h15M1006 3774h14M1077 3774h13M1148 3774h12M1219 3774h11M1290 3774h10M2700 3774h10M2770 3774h11M2840 3774h12" stroke-width="2.5"/><path d="M96 3971h24M133 3971h24M170 3971h24M208 3971h24M245 3971h24M282 3971h24M319 3971h24M356 3971h24M393 3971h24M430 3971h24M467 3971h24M504 3971h24M109 3959h25M148 3959h25M187 3959h25M226 3959h25M266 3959h25M305 3959h25M344 3959h25M383 3959h25M422 3959h25M461 3959h25M500 3959h25M539 3959h25M579 3959h25M618 3959h25M657 3959h25M696 3959h25M735 3959h25M774 3959h25M813 3959h25M852 3959h25M892 3959h25M931 3959h25M970 3959h25M1009 3959h25M1049 3959h24M1088 3959h23M1128 3959h22M1168 3959h21M2811 3959h21M2850 3959h22M707 3946h26M748 3946h27M789 3946h27M831 3946h27M872 3946h27M913 3946h27M955 3946h27M996 3946h27M1037 3946h26M1079 3946h25M1121 3946h24M1163 3946h23M1205 3946h22M1247 3946h21M1288 3946h20M1330 3946h18M1372 3946h17M1414 3946h16M1456 3946h15M1497 3946h14M1539 3946h13M1581 3946h12M1623 3946h11M1665 3946h10M1707 3946h9M1748 3946h8M1790 3946h7M2203 3946h7M2244 3946h8M2285 3946h9M2325 3946h10M2366 3946h11M2407 3946h12M2448 3946h13M2488 3946h14M2529 3946h15M2570 3946h16M2611 3946h17M2651 3946h18M2692 3946h20M2733 3946h21M2774 3946h22M2814 3946h23M2855 3946h24M1381 3933h18M1425 3933h17M1469 3933h16M1514 3933h15M1558 3933h13M1602 3933h12M1646 3933h11M1690 3933h10M1734 3933h9M1778 3933h7M1823 3933h6M1867 3933h5M1911 3933h4M1955 3933h3M1999 3933h2M2042 3933h3M2085 3933h4M2128 3933h5M2171 3933h6M2214 3933h7M2257 3933h9M2300 3933h10M2343 3933h11M2386 3933h12M2429 3933h13M2472 3933h15M2515 3933h16M2558 3933h17M2601 3933h18M1999 3919h2" stroke-width="3.0"/><path d="M88 3946h26M129 3946h26M170 3946h26M212 3946h26M253 3946h26M294 3946h26M335 3946h26M377 3946h26M418 3946h26M459 3946h26M500 3946h26M542 3946h26M583 3946h26M624 3946h26M666 3946h26M375 3933h28M418 3933h28M462 3933h28M505 3933h28M549 3933h28M592 3933h28M636 3933h28M679 3933h28M723 3933h28M766 3933h28M810 3933h28M854 3933h28M897 3933h28M941 3933h28M984 3933h28M1028 3933h28M1072 3933h27M1116 3933h25M1160 3933h24M1204 3933h23M1249 3933h22M1293 3933h21M1337 3933h19M2644 3933h19M2687 3933h21M2730 3933h22M2773 3933h23M2816 3933h24M2858 3933h25M1067 3919h28M1113 3919h27M1160 3919h26M1207 3919h24M1253 3919h23M1300 3919h22M1347 3919h20M1393 3919h19M1440 3919h18M1486 3919h16M1533 3919h15M1580 3919h14M1626 3919h12M1673 3919h11M1719 3919h10M1766 3919h8M1813 3919h7M1859 3919h6M1906 3919h4M1953 3919h3M2045 3919h3M2090 3919h4M2135 3919h6M2180 3919h7M2226 3919h8M2271 3919h10M2316 3919h11M2362 3919h12M2407 3919h14M2452 3919h15M2497 3919h16M2543 3919h18M2588 3919h19M2633 3919h20M2678 3919h22M2724 3919h23M2769 3919h24M2814 3919h26M2860 3919h27M1704 3904h11M1753 3904h9M1802 3904h8M1852 3904h6M1901 3904h5M1950 3904h3M1999 3904h2M2047 3904h3M2095 3904h5M2142 3904h6M2190 3904h8M2238 3904h9M2286 3904h11" stroke-width="3.5"/><path d="M113 3933h28M157 3933h28M200 3933h28M244 3933h28M287 3933h28M331 3933h28M147 3919h29M193 3919h29M239 3919h29M285 3919h29M331 3919h29M377 3919h29M423 3919h29M469 3919h29M515 3919h29M561 3919h29M607 3919h29M653 3919h29M699 3919h29M745 3919h29M791 3919h29M837 3919h29M882 3919h29M928 3919h29M974 3919h29M1020 3919h29M870 3904h31M918 3904h31M967 3904h31M1015 3904h31M1064 3904h30M1113 3904h29M1162 3904h27M1211 3904h26M1261 3904h24M1310 3904h23M1359 3904h21M1408 3904h20M1458 3904h18M1507 3904h17M1556 3904h15M1605 3904h14M1655 3904h12M2333 3904h12M2381 3904h14M2429 3904h15M2477 3904h17M2524 3904h18M2572 3904h20M2620 3904h21M2667 3904h23M2715 3904h24M2763 3904h26M2811 3904h27M2858 3904h29M1531 3888h17M1583 3888h15M1635 3888h13M1687 3888h12M1739 3888h10M1791 3888h8M1843 3888h7M1895 3888h5M1947 3888h3M1999 3888h1M2050 3888h3M2100 3888h5M2150 3888h7M2200 3888h8M2251 3888h10M2301 3888h12M2351 3888h13M2402 3888h15M2452 3888h17" stroke-width="4.0"/><path d="M101 3919h29M94 3904h30M143 3904h30M191 3904h30M240 3904h30M288 3904h30M336 3904h30M385 3904h30M433 3904h30M482 3904h30M530 3904h30M579 3904h31M627 3904h31M676 3904h31M724 3904h31M773 3904h31M821 3904h31M756 3888h32M808 3888h32M859 3888h32M910 3888h32M961 3888h32M1012 3888h32M1063 3888h32M1115 3888h30M1167 3888h29M1219 3888h27M1271 3888h25M1323 3888h24M1375 3888h22M1427 3888h20M1479 3888h18M2502 3888h18M2553 3888h20M2603 3888h22M2653 3888h24M2703 3888h25M2754 3888h27M2804 3888h29M2854 3888h30M1450 3872h20M1505 3872h19M1560 3872h17M1615 3872h15M1670 3872h13M1725 3872h11M1780 3872h9M1835 3872h7M1889 3872h5M1944 3872h3M1999 3872h1M2052 3872h3M2105 3872h5M2158 3872h7M2211 3872h9M2264 3872h11M2317 3872h13M2370 3872h15M2423 3872h17M2476 3872h19M2529 3872h20M1864 3796h5M1932 3796h3M2000 3796h1M2065 3796h3M2131 3796h5" stroke-width="4.5"/><path d="M92 3888h32M143 3888h32M194 3888h32M245 3888h32M296 3888h32M347 3888h32M399 3888h32M450 3888h32M501 3888h32M552 3888h32M603 3888h32M654 3888h32M705 3888h32M742 3872h34M796 3872h34M850 3872h34M904 3872h34M958 3872h34M1012 3872h34M1066 3872h34M1121 3872h32M1176 3872h30M1230 3872h28M1285 3872h26M1340 3872h24M1395 3872h22M2582 3872h22M2635 3872h24M2688 3872h26M2741 3872h28M2794 3872h30M2847 3872h32M1419 3854h23M1477 3854h21M1535 3854h19M1593 3854h16M1651 3854h14M1709 3854h12M1767 3854h10M1825 3854h8M1883 3854h6M1941 3854h4M1999 3854h1M2055 3854h4M2111 3854h6M2167 3854h8M2223 3854h10M2279 3854h12M2334 3854h14M2390 3854h16M2446 3854h19M2502 3854h21M2558 3854h23M1184 3796h27M1252 3796h25M1320 3796h23M1388 3796h20M1456 3796h18M1524 3796h16M1592 3796h14M1660 3796h12M1728 3796h9M1796 3796h7M2197 3796h7M2263 3796h9M2328 3796h12M2394 3796h14M2460 3796h16M2526 3796h18M2591 3796h20M2657 3796h23M2723 3796h25M2789 3796h27" stroke-width="5.0"/><path d="M95 3872h33M149 3872h33M203 3872h33M257 3872h33M311 3872h33M365 3872h33M418 3872h33M472 3872h33M526 3872h33M580 3872h34M634 3872h34M688 3872h34M787 3854h35M844 3854h35M901 3854h35M958 3854h35M1015 3854h35M1071 3854h35M1129 3854h34M1187 3854h31M1245 3854h29M1303 3854h27M1361 3854h25M2614 3854h25M2670 3854h27M2725 3854h29M2781 3854h31M2837 3854h34M1509 3836h21M1571 3836h18M1632 3836h16M1693 3836h13M1754 3836h11M1816 3836h9M1877 3836h6M1938 3836h4M1999 3836h1M2058 3836h4M2117 3836h6M2176 3836h9M2235 3836h11M2294 3836h13M2352 3836h16M2411 3836h18M2470 3836h21M508 3796h42M575 3796h42M642 3796h42M709 3796h42M777 3796h40M845 3796h38M913 3796h36M981 3796h33M1049 3796h31M1116 3796h29M2854 3796h29" stroke-width="5.5"/><path d="M161 3854h35M218 3854h35M275 3854h35M332 3854h35M389 3854h35M445 3854h35M502 3854h35M559 3854h35M616 3854h35M673 3854h35M730 3854h35M900 3836h37M960 3836h37M1020 3836h37M1081 3836h37M1142 3836h35M1203 3836h33M1264 3836h30M1325 3836h28M1387 3836h25M1448 3836h23M2529 3836h23M2588 3836h25M2647 3836h28M2706 3836h30M2764 3836h33M2823 3836h35M1611 3816h17M1676 3816h15M1741 3816h12M1805 3816h9M1870 3816h7M1935 3816h4M1999 3816h1M2061 3816h4M2123 3816h7M2185 3816h9M2247 3816h12M2309 3816h15M2371 3816h17M107 3796h42M174 3796h42M241 3796h42M308 3796h42M375 3796h42M441 3796h42" stroke-width="6.0"/><path d="M104 3854h35M360 3836h37M420 3836h37M480 3836h37M540 3836h37M600 3836h37M660 3836h37M720 3836h37M780 3836h37M840 3836h37M1093 3816h39M1158 3816h36M1223 3816h34M1288 3816h31M1352 3816h28M1417 3816h26M1482 3816h23M1546 3816h20M2433 3816h20M2495 3816h23M2557 3816h26M2620 3816h28M2682 3816h31M2744 3816h34M2806 3816h36M2868 3816h39" stroke-width="6.5"/><path d="M120 3836h36M180 3836h36M240 3836h36M300 3836h36M523 3816h38M587 3816h38M650 3816h38M713 3816h39M777 3816h39M840 3816h39M903 3816h39M967 3816h39M1030 3816h39" stroke-width="7.0"/><path d="M80 3816h38M143 3816h38M207 3816h38M270 3816h38M333 3816h38M397 3816h38M460 3816h38" stroke-width="7.5"/></g><polygon points="2898,868 3188,1033.9 3188,4039 2898,4039" fill="#fcfcfc"/><polygon points="2898,2311 3188,2476.9 3188,4039 2898,4039" fill="#f4f4f4"/><polygon points="2898,2877 3188,3042.9 3188,4039 2898,4039" fill="#f0f0f0"/><polygon points="2898,3085 3188,3250.9 3188,4039 2898,4039" fill="#ececec"/><polygon points="2898,3330 3188,3495.9 3188,4039 2898,4039" fill="#e8e8e8"/><polygon points="2898,3565 3188,3730.9 3188,4039 2898,4039" fill="#e3e3e3"/><polygon points="2898,3730 3188,3895.9 3188,4039 2898,4039" fill="#dedede"/><polygon points="2898,3865 3188,4030.9 3188,4039 2898,4039" fill="#d9d9d9"/><path d="M2896,2918 C2896,3016 3031,3012 3031,3100 L3031,3566 C3031,3652 2896,3648 2896,3734 Z" fill="#d81e5b"/><path d="M2641,367 L2641,362 L2722,277 C2743.6,254.3 2801.4,247 2819,264.6 L2873,319 L2790,190 L2795,150 L2800,130 L2740,0 L3172,0 L3172,367 Z" fill="#d81e5b"/><line x1="2770" y1="155" x2="2898" y2="297" stroke="#fff" stroke-width="67" stroke-linecap="round"/><path d="M2640,-30 L2730,-30 L2850,101 C2862,114 2868,128 2861,140 C2857,148 2850,155 2842.5,160.4 C2838,163.5 2831,162 2829.6,166 L2828.4,174.5 Z" fill="#231f20"/><g transform="translate(2780,60) scale(0.19906)"><path fill="#fff" d="M585,260 C700,310 850,460 960,530 C1040,578 1150,562 1215,555 L1250,600 C1150,650 1000,800 905,925 L870,880 C890,800 870,700 830,640 C760,530 640,380 585,260 Z"/><path fill="#fff" d="M1055,255 C1120,290 1170,340 1210,368 C1240,383 1280,375 1310,368 L1318,380 C1270,410 1220,460 1190,515 L1165,490 C1180,450 1170,420 1150,390 C1120,340 1080,300 1055,255 Z"/><path fill="#fff" d="M585,780 C640,810 700,860 740,873 C760,878 780,872 800,868 L802,882 C760,905 720,950 700,985 L678,972 C690,940 680,910 660,880 C635,845 605,815 585,780 Z"/><path fill="#fff" d="M960,289 Q971.88,343.12 1026,355 Q971.88,366.88 960,421 Q948.12,366.88 894,355 Q948.12,343.12 960,289 Z"/><path fill="#fff" d="M685,642 Q693.28,679.72 731,688 Q693.28,696.28 685,734 Q676.72,696.28 639,688 Q676.72,679.72 685,642 Z"/><path fill="#fff" d="M1290,656 Q1295.76,682.24 1322,688 Q1295.76,693.76 1290,720 Q1284.24,693.76 1258,688 Q1284.24,682.24 1290,656 Z"/><path fill="#fff" d="M1060,815 C1090,870 1150,900 1215,880 C1200,820 1150,780 1140,740 C1160,720 1200,725 1230,745 C1310,800 1365,900 1340,1050 C1320,990 1290,900 1240,860 C1260,900 1270,950 1265,985 C1220,940 1095,930 1060,850 Z"/><path fill="#fff" d="M1240,490 C1270,520 1310,525 1340,505 C1330,480 1300,460 1280,440 C1340,440 1392,500 1392,592 C1378,560 1362,540 1350,535 C1356,555 1352,575 1345,582 C1320,550 1258,540 1240,490 Z"/><path fill="#fff" d="M735,960 C755,985 790,990 815,975 C808,955 790,940 775,925 C820,928 862,975 862,1058 C850,1030 838,1012 828,1008 C832,1025 828,1040 822,1046 C800,1018 748,1005 735,960 Z"/></g><rect x="1420.5" y="146.3" width="277.8" height="286.7" rx="11" ry="11" fill="#fff" stroke="#d81e5b" stroke-width="4.2"/><g transform="translate(329.6,235) rotate(-6.4)"><rect x="-73" y="-67.5" width="143" height="138.5" rx="10" fill="#f3a3bf"/><rect x="-69.5" y="-67.5" width="139" height="135" rx="9" fill="#d81e5b"/></g><rect x="259" y="320" width="238" height="53.4" rx="7" fill="#f3a3bf"/><rect x="253.3" y="313.3" width="237.4" height="53.4" rx="7" fill="#d81e5b"/><path d="M1509,3859.4 A61.5,61.5 0 0 1 1632,3859.4 L1609.1,3859.4 A38.6,38.6 0 0 0 1531.9,3859.4 Z" fill="#ededed"/><rect x="1554.9" y="496" width="2" height="24.0" fill="#3a3638"/><rect x="1554.9" y="734.3" width="2" height="1284.1" fill="#3a3638"/><rect x="1554.9" y="2233.5" width="2" height="1288.2" fill="#3a3638"/><g transform="translate(0,667.0) rotate(-90)"><text x="0" y="1557" textLength="134.5" lengthAdjust="spacingAndGlyphs" style="font-weight:bold;fill:#2f2833"><tspan font-size="38.5">A</tspan><tspan font-size="29">R</tspan><tspan font-size="38">ma</tspan><tspan font-size="29">D</tspan><tspan font-size="38">a</tspan></text><text x="0" y="1580.6" textLength="134.5" lengthAdjust="spacingAndGlyphs" style="fill:#2f2833"><tspan font-size="24.7">Y</tspan><tspan font-size="32">a</tspan><tspan font-size="24.7">YINL</tspan><tspan font-size="32">a</tspan><tspan font-size="24.7">RI</tspan></text></g><g transform="translate(1494.00,658.59) scale(0.06206)"><path fill="#2f2833" d="M585,260 C700,310 850,460 960,530 C1040,578 1150,562 1215,555 L1250,600 C1150,650 1000,800 905,925 L870,880 C890,800 870,700 830,640 C760,530 640,380 585,260 Z"/><path fill="#2f2833" d="M1055,255 C1120,290 1170,340 1210,368 C1240,383 1280,375 1310,368 L1318,380 C1270,410 1220,460 1190,515 L1165,490 C1180,450 1170,420 1150,390 C1120,340 1080,300 1055,255 Z"/><path fill="#2f2833" d="M585,780 C640,810 700,860 740,873 C760,878 780,872 800,868 L802,882 C760,905 720,950 700,985 L678,972 C690,940 680,910 660,880 C635,845 605,815 585,780 Z"/><path fill="#2f2833" d="M960,289 Q971.88,343.12 1026,355 Q971.88,366.88 960,421 Q948.12,366.88 894,355 Q948.12,343.12 960,289 Z"/><path fill="#2f2833" d="M685,642 Q693.28,679.72 731,688 Q693.28,696.28 685,734 Q676.72,696.28 639,688 Q676.72,679.72 685,642 Z"/><path fill="#2f2833" d="M1290,656 Q1295.76,682.24 1322,688 Q1295.76,693.76 1290,720 Q1284.24,693.76 1258,688 Q1284.24,682.24 1290,656 Z"/><path fill="#d81e5b" d="M1060,815 C1090,870 1150,900 1215,880 C1200,820 1150,780 1140,740 C1160,720 1200,725 1230,745 C1310,800 1365,900 1340,1050 C1320,990 1290,900 1240,860 C1260,900 1270,950 1265,985 C1220,940 1095,930 1060,850 Z"/><path fill="#d81e5b" d="M1240,490 C1270,520 1310,525 1340,505 C1330,480 1300,460 1280,440 C1340,440 1392,500 1392,592 C1378,560 1362,540 1350,535 C1356,555 1352,575 1345,582 C1320,550 1258,540 1240,490 Z"/><path fill="#d81e5b" d="M735,960 C755,985 790,990 815,975 C808,955 790,940 775,925 C820,928 862,975 862,1058 C850,1030 838,1012 828,1008 C832,1025 828,1040 822,1046 C800,1018 748,1005 735,960 Z"/></g><g transform="translate(0,2163.5) rotate(-90)"><text x="0" y="1557" textLength="134.5" lengthAdjust="spacingAndGlyphs" style="font-weight:bold;fill:#2f2833"><tspan font-size="38.5">A</tspan><tspan font-size="29">R</tspan><tspan font-size="38">ma</tspan><tspan font-size="29">D</tspan><tspan font-size="38">a</tspan></text><text x="0" y="1580.6" textLength="134.5" lengthAdjust="spacingAndGlyphs" style="fill:#2f2833"><tspan font-size="24.7">Y</tspan><tspan font-size="32">a</tspan><tspan font-size="24.7">YINL</tspan><tspan font-size="32">a</tspan><tspan font-size="24.7">RI</tspan></text></g><g transform="translate(1494.00,2155.09) scale(0.06206)"><path fill="#2f2833" d="M585,260 C700,310 850,460 960,530 C1040,578 1150,562 1215,555 L1250,600 C1150,650 1000,800 905,925 L870,880 C890,800 870,700 830,640 C760,530 640,380 585,260 Z"/><path fill="#2f2833" d="M1055,255 C1120,290 1170,340 1210,368 C1240,383 1280,375 1310,368 L1318,380 C1270,410 1220,460 1190,515 L1165,490 C1180,450 1170,420 1150,390 C1120,340 1080,300 1055,255 Z"/><path fill="#2f2833" d="M585,780 C640,810 700,860 740,873 C760,878 780,872 800,868 L802,882 C760,905 720,950 700,985 L678,972 C690,940 680,910 660,880 C635,845 605,815 585,780 Z"/><path fill="#2f2833" d="M960,289 Q971.88,343.12 1026,355 Q971.88,366.88 960,421 Q948.12,366.88 894,355 Q948.12,343.12 960,289 Z"/><path fill="#2f2833" d="M685,642 Q693.28,679.72 731,688 Q693.28,696.28 685,734 Q676.72,696.28 639,688 Q676.72,679.72 685,642 Z"/><path fill="#2f2833" d="M1290,656 Q1295.76,682.24 1322,688 Q1295.76,693.76 1290,720 Q1284.24,693.76 1258,688 Q1284.24,682.24 1290,656 Z"/><path fill="#d81e5b" d="M1060,815 C1090,870 1150,900 1215,880 C1200,820 1150,780 1140,740 C1160,720 1200,725 1230,745 C1310,800 1365,900 1340,1050 C1320,990 1290,900 1240,860 C1260,900 1270,950 1265,985 C1220,940 1095,930 1060,850 Z"/><path fill="#d81e5b" d="M1240,490 C1270,520 1310,525 1340,505 C1330,480 1300,460 1280,440 C1340,440 1392,500 1392,592 C1378,560 1362,540 1350,535 C1356,555 1352,575 1345,582 C1320,550 1258,540 1240,490 Z"/><path fill="#d81e5b" d="M735,960 C755,985 790,990 815,975 C808,955 790,940 775,925 C820,928 862,975 862,1058 C850,1030 838,1012 828,1008 C832,1025 828,1040 822,1046 C800,1018 748,1005 735,960 Z"/></g><g transform="translate(0,3666.2) rotate(-90)"><text x="0" y="1557" textLength="134.5" lengthAdjust="spacingAndGlyphs" style="font-weight:bold;fill:#2f2833"><tspan font-size="38.5">A</tspan><tspan font-size="29">R</tspan><tspan font-size="38">ma</tspan><tspan font-size="29">D</tspan><tspan font-size="38">a</tspan></text><text x="0" y="1580.6" textLength="134.5" lengthAdjust="spacingAndGlyphs" style="fill:#2f2833"><tspan font-size="24.7">Y</tspan><tspan font-size="32">a</tspan><tspan font-size="24.7">YINL</tspan><tspan font-size="32">a</tspan><tspan font-size="24.7">RI</tspan></text></g><g transform="translate(1494.00,3657.79) scale(0.06206)"><path fill="#2f2833" d="M585,260 C700,310 850,460 960,530 C1040,578 1150,562 1215,555 L1250,600 C1150,650 1000,800 905,925 L870,880 C890,800 870,700 830,640 C760,530 640,380 585,260 Z"/><path fill="#2f2833" d="M1055,255 C1120,290 1170,340 1210,368 C1240,383 1280,375 1310,368 L1318,380 C1270,410 1220,460 1190,515 L1165,490 C1180,450 1170,420 1150,390 C1120,340 1080,300 1055,255 Z"/><path fill="#2f2833" d="M585,780 C640,810 700,860 740,873 C760,878 780,872 800,868 L802,882 C760,905 720,950 700,985 L678,972 C690,940 680,910 660,880 C635,845 605,815 585,780 Z"/><path fill="#2f2833" d="M960,289 Q971.88,343.12 1026,355 Q971.88,366.88 960,421 Q948.12,366.88 894,355 Q948.12,343.12 960,289 Z"/><path fill="#2f2833" d="M685,642 Q693.28,679.72 731,688 Q693.28,696.28 685,734 Q676.72,696.28 639,688 Q676.72,679.72 685,642 Z"/><path fill="#2f2833" d="M1290,656 Q1295.76,682.24 1322,688 Q1295.76,693.76 1290,720 Q1284.24,693.76 1258,688 Q1284.24,682.24 1290,656 Z"/><path fill="#d81e5b" d="M1060,815 C1090,870 1150,900 1215,880 C1200,820 1150,780 1140,740 C1160,720 1200,725 1230,745 C1310,800 1365,900 1340,1050 C1320,990 1290,900 1240,860 C1260,900 1270,950 1265,985 C1220,940 1095,930 1060,850 Z"/><path fill="#d81e5b" d="M1240,490 C1270,520 1310,525 1340,505 C1330,480 1300,460 1280,440 C1340,440 1392,500 1392,592 C1378,560 1362,540 1350,535 C1356,555 1352,575 1345,582 C1320,550 1258,540 1240,490 Z"/><path fill="#d81e5b" d="M735,960 C755,985 790,990 815,975 C808,955 790,940 775,925 C820,928 862,975 862,1058 C850,1030 838,1012 828,1008 C832,1025 828,1040 822,1046 C800,1018 748,1005 735,960 Z"/></g></svg>
<div class="t" style="left:231.1px;top:180.5px;width:200px;text-align:center;font-size:92px;line-height:100px;font-weight:bold;color:#fff;transform:rotate(-6.4deg) scaleX(1.12);-webkit-text-stroke:3px #fff">8</div>
<div class="t" style="left:-123.8px;width:1000px;text-align:center;top:318.7px;font-size:42.0px;line-height:42.0px;font-weight:bold;color:#fff;letter-spacing:1.9px;-webkit-text-stroke:0.8px #fff;">TEST</div>
<div class="t" style="left:2472.7px;top:282.7px;font-size:67px;line-height:67px;color:#5a5a5c;transform-origin:0 0;transform:scaleX(0.585);-webkit-text-stroke:0.8px #5a5a5c">TORK</div>
<div class="t" style="left:2982px;top:3472px;font-size:83.9px;line-height:83.9px;font-weight:bold;color:#fff;transform-origin:0 0;transform:rotate(-90deg) scaleX(0.636) translateY(-71.0px)">Süper Test</div>
<div class="t" style="left:2987.2px;top:2923px;font-size:88px;line-height:88px;color:#dcdcdc;-webkit-text-stroke:1.6px #dcdcdc;letter-spacing:0.4px;transform-origin:0 0;transform:rotate(-90deg) translateY(-74.5px)">ÖSYM Tarzında Yeni Nesil Sorular</div>
<div class="t" style="left:1071.4px;width:1000px;text-align:center;top:3839.7px;font-size:51.5px;line-height:51.5px;-webkit-text-stroke:0.7px #231f20;">109</div>
<div style="position:absolute;left:256.7px;top:3787px;width:97.3px;height:55px;background:#e6e6e6"></div>
<div class="t" style="left:-194.6px;width:1000px;text-align:center;top:3795.2px;font-size:42.0px;line-height:42.0px;letter-spacing:-0.5px;">1.A</div>
<div style="position:absolute;left:359.5px;top:3787px;width:96.5px;height:55px;background:#e6e6e6"></div>
<div class="t" style="left:-92.2px;width:1000px;text-align:center;top:3795.2px;font-size:42.0px;line-height:42.0px;letter-spacing:-0.5px;">2.B</div>
<div style="position:absolute;left:461.5px;top:3787px;width:95.1px;height:55px;background:#e6e6e6"></div>
<div class="t" style="left:9.1px;width:1000px;text-align:center;top:3795.2px;font-size:42.0px;line-height:42.0px;letter-spacing:-0.5px;">3.E</div>
<div style="position:absolute;left:2659.2px;top:3787px;width:97.7px;height:55px;background:#e6e6e6"></div>
<div class="t" style="left:2208.1px;width:1000px;text-align:center;top:3795.2px;font-size:42.0px;line-height:42.0px;letter-spacing:-0.5px;">4.C</div>
<div style="position:absolute;left:2762.0px;top:3787px;width:95.9px;height:55px;background:#e6e6e6"></div>
<div class="t" style="left:2309.9px;width:1000px;text-align:center;top:3795.2px;font-size:42.0px;line-height:42.0px;letter-spacing:-0.5px;">5.D</div>
<div class="t" style="left:254.6px;top:501.0px;font-size:51.0px;line-height:51.0px;font-weight:bold;letter-spacing:-0.2px;color:#d81e5b;">1.</div>
<div class="t j" style="left:353.7px;top:506.1px;font-size:45.0px;line-height:45.0px;width:1154.8px;">Makara ağırlıklarının ve sürtünmelerin ihmal edildiği sis-</div>
<div class="t" style="left:353.7px;top:569.8px;font-size:45.0px;line-height:45.0px;letter-spacing:0.09px;">temde X ve Y cisimleri şekildeki gibi dengededir.</div>
<div class="t j" style="left:353.7px;top:1258.9px;font-size:45.0px;line-height:45.0px;font-weight:bold;letter-spacing:-0.2px;width:938.0px;letter-spacing:-0.45px;">Buna göre, X ve Y cisimlerini ağırlıkları oranı</div>
<div class="t" style="left:1412.3px;top:1258.9px;font-size:45.0px;line-height:45.0px;font-weight:bold;letter-spacing:-0.2px;">kaç-</div>
<div class="t" style="left:353.7px;top:1323.4px;font-size:45.0px;line-height:45.0px;font-weight:bold;letter-spacing:-0.2px;">tır?</div>
<div class="t" style="left:1325.7px;top:1223.0px;font-size:40.0px;line-height:40.0px;font-weight:bold;letter-spacing:-0.2px;">G<span style="font-size:32px;position:relative;top:19.3px;line-height:0">X</span></div>
<div class="t" style="left:1325.7px;top:1292.1px;font-size:40.0px;line-height:40.0px;font-weight:bold;letter-spacing:-0.2px;">G<span style="font-size:32px;position:relative;top:18.7px;line-height:0">Y</span></div>
<div class="bar" style="left:1317px;top:1280.2px;width:73.7px;height:2.6px"></div>
<div class="t" style="left:351.6px;top:1424.3px;font-size:45.0px;line-height:45.0px;">(Sin30 =</div>
<div class="t" style="left:61.8px;width:1000px;text-align:center;top:1394.4px;font-size:45.0px;line-height:45.0px;">1</div>
<div class="t" style="left:61.8px;width:1000px;text-align:center;top:1454.1px;font-size:45.0px;line-height:45.0px;">2</div>
<div class="bar" style="left:543.0px;top:1446.5px;width:37.6px;height:2.2px"></div>
<div class="t" style="left:591.5px;top:1424.3px;font-size:45.0px;line-height:45.0px;">, cos30 =</div>
<div class="t" style="left:349.0px;width:1000px;text-align:center;top:1394.4px;font-size:45.0px;line-height:45.0px;"><span style="margin-left:27px">3</span></div>
<div class="t" style="left:349.0px;width:1000px;text-align:center;top:1454.1px;font-size:45.0px;line-height:45.0px;">2</div>
<div class="bar" style="left:814.2px;top:1446.5px;width:69.6px;height:2.2px"></div>
<svg width="3188" height="4039" viewBox="0 0 3188 4039"><path d="M823,1422.5 L827,1419.3 L833.6,1434 L840.8,1392.1 L876.6,1392.1" fill="none" stroke="#231f20" stroke-width="2.2" stroke-linejoin="miter"/></svg>
<div class="t" style="left:893.5px;top:1424.3px;font-size:45.0px;line-height:45.0px;">, sin53 = 0,8, Cos53 = 0,6)</div>
<div class="t" style="left:354.8px;top:1558.5px;font-size:45.0px;line-height:45.0px;">A)</div>
<div class="t" style="left:-62.7px;width:1000px;text-align:center;top:1526.2px;font-size:45.0px;line-height:45.0px;">8</div>
<div class="t" style="left:-62.7px;width:1000px;text-align:center;top:1586.6px;font-size:45.0px;line-height:45.0px;">5</div>
<div class="bar" style="left:418.3px;top:1580.0px;width:38.0px;height:2.2px"></div>
<div class="t" style="left:574.8px;top:1558.5px;font-size:45.0px;line-height:45.0px;">B)</div>
<div class="t" style="left:159.7px;width:1000px;text-align:center;top:1526.2px;font-size:45.0px;line-height:45.0px;">6</div>
<div class="t" style="left:159.7px;width:1000px;text-align:center;top:1586.6px;font-size:45.0px;line-height:45.0px;">5</div>
<div class="bar" style="left:640.7px;top:1580.0px;width:38.0px;height:2.2px"></div>
<div class="t" style="left:814.5px;top:1558.5px;font-size:45.0px;line-height:45.0px;">C)</div>
<div class="t" style="left:401.0px;width:1000px;text-align:center;top:1526.2px;font-size:45.0px;line-height:45.0px;">4</div>
<div class="t" style="left:401.0px;width:1000px;text-align:center;top:1586.6px;font-size:45.0px;line-height:45.0px;">3</div>
<div class="bar" style="left:882.0px;top:1580.0px;width:38.0px;height:2.2px"></div>
<div class="t" style="left:1074.4px;top:1558.5px;font-size:45.0px;line-height:45.0px;">D) 1</div>
<div class="t" style="left:1304.6px;top:1558.5px;font-size:45.0px;line-height:45.0px;">E)</div>
<div class="t" style="left:886.5px;width:1000px;text-align:center;top:1526.2px;font-size:45.0px;line-height:45.0px;">2</div>
<div class="t" style="left:886.5px;width:1000px;text-align:center;top:1586.6px;font-size:45.0px;line-height:45.0px;">3</div>
<div class="bar" style="left:1367.5px;top:1580.0px;width:38.0px;height:2.2px"></div>
<div class="t" style="left:253.3px;top:1689.1px;font-size:51.0px;line-height:51.0px;font-weight:bold;letter-spacing:-0.2px;color:#d81e5b;">2.</div>
<div class="t j" style="left:353.7px;top:1694.2px;font-size:45.0px;line-height:45.0px;width:1154.8px;">G ağırlığındaki türdeş KL çubuğu şekildeki gibi dengedey-</div>
<div class="t" style="left:353.7px;top:1758.9px;font-size:45.0px;line-height:45.0px;">ken ip gerilmeleri T<span class="sb">1</span> ve T<span class="sb">2</span> oluyor.</div>
<div class="t" style="left:353.7px;top:2383.1px;font-size:45.0px;line-height:45.0px;font-weight:bold;letter-spacing:-0.2px;">Buna göre, ip gerilmeleri</div>
<div class="t" style="left:984.5px;top:2383.1px;font-size:45.0px;line-height:45.0px;font-weight:bold;letter-spacing:-0.2px;">oranı kaçtır?</div>
<div class="t" style="left:917.0px;top:2347.0px;font-size:40.0px;line-height:40.0px;font-weight:bold;letter-spacing:-0.2px;">T<span style="font-size:30px;position:relative;top:15px;line-height:0">1</span></div>
<div class="t" style="left:917.0px;top:2414.0px;font-size:40.0px;line-height:40.0px;font-weight:bold;letter-spacing:-0.2px;">T<span style="font-size:30px;position:relative;top:20px;line-height:0">2</span></div>
<div class="bar" style="left:903.7px;top:2404.7px;width:55.6px;height:2.6px"></div>
<div class="t" style="left:351.0px;top:2493.5px;font-size:45.0px;line-height:45.0px;">(Sin 37° = 0,6, Sin53° = 0,8, cos37 = 0,8, cos53 = 0,6)</div>
<div class="t" style="left:354.8px;top:2595.9px;font-size:45.0px;line-height:45.0px;">A)</div>
<div class="t" style="left:-63.6px;width:1000px;text-align:center;top:2563.6px;font-size:45.0px;line-height:45.0px;">5</div>
<div class="t" style="left:-63.6px;width:1000px;text-align:center;top:2624.0px;font-size:45.0px;line-height:45.0px;">3</div>
<div class="bar" style="left:417.4px;top:2617.4px;width:38.0px;height:2.2px"></div>
<div class="t" style="left:573.6px;top:2595.9px;font-size:45.0px;line-height:45.0px;">B)</div>
<div class="t" style="left:159.4px;width:1000px;text-align:center;top:2563.6px;font-size:45.0px;line-height:45.0px;">4</div>
<div class="t" style="left:159.4px;width:1000px;text-align:center;top:2624.0px;font-size:45.0px;line-height:45.0px;">3</div>
<div class="bar" style="left:640.4px;top:2617.4px;width:38.0px;height:2.2px"></div>
<div class="t" style="left:814.0px;top:2595.9px;font-size:45.0px;line-height:45.0px;">C) 1</div>
<div class="t" style="left:1073.7px;top:2595.9px;font-size:45.0px;line-height:45.0px;">D)</div>
<div class="t" style="left:659.5px;width:1000px;text-align:center;top:2563.6px;font-size:45.0px;line-height:45.0px;">3</div>
<div class="t" style="left:659.5px;width:1000px;text-align:center;top:2624.0px;font-size:45.0px;line-height:45.0px;">4</div>
<div class="bar" style="left:1140.5px;top:2617.4px;width:38.0px;height:2.2px"></div>
<div class="t" style="left:1302.0px;top:2595.9px;font-size:45.0px;line-height:45.0px;">E)</div>
<div class="t" style="left:885.5px;width:1000px;text-align:center;top:2563.6px;font-size:45.0px;line-height:45.0px;">4</div>
<div class="t" style="left:885.5px;width:1000px;text-align:center;top:2624.0px;font-size:45.0px;line-height:45.0px;">5</div>
<div class="bar" style="left:1366.5px;top:2617.4px;width:38.0px;height:2.2px"></div>
<div class="t" style="left:253.8px;top:2676.4px;font-size:51.0px;line-height:51.0px;font-weight:bold;letter-spacing:-0.2px;color:#d81e5b;">3.</div>
<div class="t j" style="left:353.7px;top:2681.5px;font-size:45.0px;line-height:45.0px;width:1154.8px;">O noktasal cismi F<span class="sb">1</span>, F<span class="sb">2</span> ve F<span class="sb">3</span> kuvvetine etkisinde şekildeki</div>
<div class="t" style="left:353.7px;top:2746.2px;font-size:45.0px;line-height:45.0px;">gibi dengededir.</div>
<div class="t j" style="left:353.7px;top:3330.4px;font-size:45.0px;line-height:45.0px;font-weight:bold;letter-spacing:-0.2px;width:1154.8px;"><span style="font-family:'Liberation Serif',serif;font-weight:normal">α</span> &lt; <span style="font-family:'Liberation Serif',serif;font-weight:normal">θ</span> &lt; 90° olduğuna göre, kuvvetlerin büyüklükleri</div>
<div class="t j" style="left:353.7px;top:3395.1px;font-size:45.0px;line-height:45.0px;font-weight:bold;letter-spacing:-0.2px;width:1154.8px;letter-spacing:-0.45px;">arasındaki ilişki aşağıdakilerden hangisi <span style="text-decoration:underline;text-decoration-thickness:2.5px;text-underline-offset:7px">kesinlikle</span> ola-</div>
<div class="t" style="left:353.7px;top:3459.8px;font-size:45.0px;line-height:45.0px;font-weight:bold;letter-spacing:-0.2px;">maz?</div>
<div class="t" style="left:354.8px;top:3539.7px;font-size:45.0px;line-height:45.0px;">A) F<span class="sb">1</span> &gt; F<span class="sb">2</span> &gt; F<span class="sb">3</span></div>
<div class="t" style="left:1022.9px;top:3539.7px;font-size:45.0px;line-height:45.0px;">B) F<span class="sb">1</span> &gt; F<span class="sb">3</span> &gt; F<span class="sb">2</span></div>
<div class="t" style="left:352.6px;top:3617.4px;font-size:45.0px;line-height:45.0px;">C) F<span class="sb">3</span> &gt; F<span class="sb">1</span> &gt; F<span class="sb">2</span></div>
<div class="t" style="left:1022.7px;top:3617.4px;font-size:45.0px;line-height:45.0px;">D) F<span class="sb">1</span> = F<span class="sb">3</span> &gt; F<span class="sb">2</span></div>
<div class="t" style="left:712.1px;top:3698.0px;font-size:45.0px;line-height:45.0px;">E) F<span class="sb">3</span> &gt; F<span class="sb">2</span> &gt; F<span class="sb">1</span></div>
<div class="t" style="left:1609.1px;top:501.5px;font-size:51.0px;line-height:51.0px;font-weight:bold;letter-spacing:-0.2px;color:#d81e5b;">4.</div>
<div class="t j" style="left:1705.7px;top:506.6px;font-size:45.0px;line-height:45.0px;width:1155.8px;">X, Y ve Z cisimleri şekildeki durumda dengede iken ip ge-</div>
<div class="t" style="left:1707.2px;top:571.1px;font-size:45.0px;line-height:45.0px;">rilmeleri T<span class="sb">1</span> ve T<span class="sb">2</span> oluyor.</div>
<div class="t" style="left:1705.7px;top:1403.3px;font-size:45.0px;line-height:45.0px;font-weight:bold;letter-spacing:-0.2px;letter-spacing:-0.03px;">X ile Y arasındaki ip kesilirse T<span class="sb">1</span> ve T<span class="sb">2</span> nasıl değişir?</div>
<div class="t" style="left:1501.0px;width:1000px;text-align:center;top:1500.8px;font-size:45.0px;line-height:45.0px;">T<span class="sb">1</span></div>
<div class="t" style="left:1948.7px;width:1000px;text-align:center;top:1500.8px;font-size:45.0px;line-height:45.0px;">T<span class="sb">2</span></div>
<div class="bar" style="left:1804px;top:1558.4px;width:395px;height:2.2px"></div>
<div class="bar" style="left:2256px;top:1558.4px;width:386.8px;height:2.2px"></div>
<div class="t" style="left:784.5px;width:1000px;text-align:right;top:1584.1px;font-size:45.0px;line-height:45.0px;">A)</div>
<div class="t" style="left:1501.0px;width:1000px;text-align:center;top:1584.1px;font-size:45.0px;line-height:45.0px;">Azalır</div>
<div class="t" style="left:1948.7px;width:1000px;text-align:center;top:1584.1px;font-size:45.0px;line-height:45.0px;">Azalır</div>
<div class="t" style="left:784.5px;width:1000px;text-align:right;top:1666.8px;font-size:45.0px;line-height:45.0px;">B)</div>
<div class="t" style="left:1501.0px;width:1000px;text-align:center;top:1666.8px;font-size:45.0px;line-height:45.0px;">Değişmez</div>
<div class="t" style="left:1948.7px;width:1000px;text-align:center;top:1666.8px;font-size:45.0px;line-height:45.0px;">Değişmez</div>
<div class="t" style="left:784.5px;width:1000px;text-align:right;top:1749.8px;font-size:45.0px;line-height:45.0px;">C)</div>
<div class="t" style="left:1501.0px;width:1000px;text-align:center;top:1749.8px;font-size:45.0px;line-height:45.0px;">Azalır</div>
<div class="t" style="left:1948.7px;width:1000px;text-align:center;top:1749.8px;font-size:45.0px;line-height:45.0px;">Değişmez</div>
<div class="t" style="left:784.5px;width:1000px;text-align:right;top:1832.6px;font-size:45.0px;line-height:45.0px;">D)</div>
<div class="t" style="left:1501.0px;width:1000px;text-align:center;top:1832.6px;font-size:45.0px;line-height:45.0px;">Artar</div>
<div class="t" style="left:1948.7px;width:1000px;text-align:center;top:1832.6px;font-size:45.0px;line-height:45.0px;">Azalır</div>
<div class="t" style="left:784.5px;width:1000px;text-align:right;top:1915.8px;font-size:45.0px;line-height:45.0px;">E)</div>
<div class="t" style="left:1501.0px;width:1000px;text-align:center;top:1915.8px;font-size:45.0px;line-height:45.0px;">Azalır</div>
<div class="t" style="left:1948.7px;width:1000px;text-align:center;top:1915.8px;font-size:45.0px;line-height:45.0px;">Artar</div>
<div class="t" style="left:1608.6px;top:2255.4px;font-size:51.0px;line-height:51.0px;font-weight:bold;letter-spacing:-0.2px;color:#d81e5b;">5.</div>
<div class="t j" style="left:1705.7px;top:2260.5px;font-size:45.0px;line-height:45.0px;width:1155.8px;">Şekildeki sistem X ve Y cisimleri ile dengedeyken ip geril-</div>
<div class="t" style="left:1705.7px;top:2325.9px;font-size:45.0px;line-height:45.0px;">meleri T<span class="sb">1</span> ve T<span class="sb">2</span> oluyor.</div>
<div class="t j" style="left:1705.7px;top:3036.9px;font-size:45.0px;line-height:45.0px;font-weight:bold;letter-spacing:-0.2px;width:1155.8px;letter-spacing:-0.8px;">X cisminin yerine daha ağır bir cisim asılırsa T<span class="sb">1</span> ve T<span class="sb">2</span> ip</div>
<div class="t" style="left:1705.7px;top:3102.3px;font-size:45.0px;line-height:45.0px;font-weight:bold;letter-spacing:-0.2px;">gerilmesi nasıl değişir?</div>
<div class="t" style="left:1501.0px;width:1000px;text-align:center;top:3201.4px;font-size:45.0px;line-height:45.0px;">T<span class="sb">1</span></div>
<div class="t" style="left:1948.7px;width:1000px;text-align:center;top:3201.4px;font-size:45.0px;line-height:45.0px;">T<span class="sb">2</span></div>
<div class="bar" style="left:1804px;top:3259.0px;width:395px;height:2.2px"></div>
<div class="bar" style="left:2256px;top:3259.0px;width:386.8px;height:2.2px"></div>
<div class="t" style="left:784.5px;width:1000px;text-align:right;top:3284.7px;font-size:45.0px;line-height:45.0px;">A)</div>
<div class="t" style="left:1501.0px;width:1000px;text-align:center;top:3284.7px;font-size:45.0px;line-height:45.0px;">Azalır</div>
<div class="t" style="left:1948.7px;width:1000px;text-align:center;top:3284.7px;font-size:45.0px;line-height:45.0px;">Azalır</div>
<div class="t" style="left:784.5px;width:1000px;text-align:right;top:3367.4px;font-size:45.0px;line-height:45.0px;">B)</div>
<div class="t" style="left:1501.0px;width:1000px;text-align:center;top:3367.4px;font-size:45.0px;line-height:45.0px;">Değişmez</div>
<div class="t" style="left:1948.7px;width:1000px;text-align:center;top:3367.4px;font-size:45.0px;line-height:45.0px;">Değişmez</div>
<div class="t" style="left:784.5px;width:1000px;text-align:right;top:3450.4px;font-size:45.0px;line-height:45.0px;">C)</div>
<div class="t" style="left:1501.0px;width:1000px;text-align:center;top:3450.4px;font-size:45.0px;line-height:45.0px;">Azalır</div>
<div class="t" style="left:1948.7px;width:1000px;text-align:center;top:3450.4px;font-size:45.0px;line-height:45.0px;">Değişmez</div>
<div class="t" style="left:784.5px;width:1000px;text-align:right;top:3533.2px;font-size:45.0px;line-height:45.0px;">D)</div>
<div class="t" style="left:1501.0px;width:1000px;text-align:center;top:3533.2px;font-size:45.0px;line-height:45.0px;">Artar</div>
<div class="t" style="left:1948.7px;width:1000px;text-align:center;top:3533.2px;font-size:45.0px;line-height:45.0px;">Değişmez</div>
<div class="t" style="left:784.5px;width:1000px;text-align:right;top:3616.4px;font-size:45.0px;line-height:45.0px;">E)</div>
<div class="t" style="left:1501.0px;width:1000px;text-align:center;top:3616.4px;font-size:45.0px;line-height:45.0px;">Azalır</div>
<div class="t" style="left:1948.7px;width:1000px;text-align:center;top:3616.4px;font-size:45.0px;line-height:45.0px;">Artar</div>
<svg width="3188" height="4039" viewBox="0 0 3188 4039">
<defs>
<linearGradient id="rg" gradientUnits="userSpaceOnUse" x1="0" y1="0" x2="1.95" y2="4.8" spreadMethod="repeat">
<stop offset="0" stop-color="#7d531a"/><stop offset="0.14" stop-color="#b48639"/><stop offset="0.5" stop-color="#ebcf88"/><stop offset="0.82" stop-color="#c79a4c"/><stop offset="1" stop-color="#7d531a"/></linearGradient>
<linearGradient id="re" x1="0" y1="0" x2="0" y2="1">
<stop offset="0" stop-color="#7a4e12" stop-opacity=".75"/><stop offset="0.28" stop-color="#7a4e12" stop-opacity="0"/><stop offset="0.72" stop-color="#7a4e12" stop-opacity="0"/><stop offset="1" stop-color="#7a4e12" stop-opacity=".75"/></linearGradient>
<radialGradient id="prim" cx="50%" cy="50%" r="50%">
<stop offset="0" stop-color="#2c2a2e"/><stop offset="0.79" stop-color="#2c2a2e"/><stop offset="0.86" stop-color="#5f5e62"/><stop offset="0.95" stop-color="#c4c4c6"/><stop offset="1" stop-color="#a2a2a4"/></radialGradient>
<radialGradient id="pin" cx="50%" cy="50%" r="50%">
<stop offset="0" stop-color="#e4e4e4"/><stop offset="0.8" stop-color="#d4d4d6"/><stop offset="0.92" stop-color="#bdbdbf"/><stop offset="1" stop-color="#77767a"/></radialGradient>
<radialGradient id="phub" cx="50%" cy="50%" r="50%">
<stop offset="0" stop-color="#dcdcdc"/><stop offset="0.7" stop-color="#d0d0d2"/><stop offset="0.9" stop-color="#8c8b8f"/><stop offset="1" stop-color="#4a484c"/></radialGradient>
<linearGradient id="rod" x1="0" y1="0" x2="0" y2="1">
<stop offset="0" stop-color="#4a484b"/><stop offset="0.12" stop-color="#6b6a6d"/><stop offset="0.38" stop-color="#f4f4f4"/><stop offset="0.55" stop-color="#9a999c"/><stop offset="0.85" stop-color="#3a383b"/><stop offset="1" stop-color="#2a282b"/></linearGradient>
<marker id="ah" markerWidth="10" markerHeight="10" refX="8" refY="5" orient="auto" markerUnits="userSpaceOnUse"><path d="M0,0 L10,5 L0,10 L3,5 Z" fill="#231f20"/></marker>
</defs>
<g transform="translate(384.6,684.0) rotate(42.25)"><rect x="0" y="-5.65" width="387.6" height="11.3" fill="url(#rg)"/><rect x="0" y="-5.65" width="387.6" height="11.3" fill="url(#re)"/></g>
<g transform="translate(701.5,944.7) rotate(-43.47)"><rect x="0" y="-5.65" width="294.2" height="11.3" fill="url(#rg)"/><rect x="0" y="-5.65" width="294.2" height="11.3" fill="url(#re)"/></g>
<g transform="translate(1187.7,903.0) rotate(90.00)"><rect x="0" y="-5.65" width="197.0" height="11.3" fill="url(#rg)"/><rect x="0" y="-5.65" width="197.0" height="11.3" fill="url(#re)"/></g>
<path d="M1176.9,898.7 Q1188.7,909.5 1200.3,898.5" fill="none" stroke="#b98a3e" stroke-width="11.3"/>
<path d="M1176.9,898.7 Q1188.7,909.5 1200.3,898.5" fill="none" stroke="#e6c880" stroke-width="6.2" stroke-dasharray="2.6 2.8"/>
<g transform="translate(962.0,730.0) rotate(38.14)"><rect x="0" y="-5.65" width="273.2" height="11.3" fill="url(#rg)"/><rect x="0" y="-5.65" width="273.2" height="11.3" fill="url(#re)"/></g>
<g transform="translate(1200.3,898.5) rotate(-39.32)"><rect x="0" y="-5.65" width="337.0" height="11.3" fill="url(#rg)"/><rect x="0" y="-5.65" width="337.0" height="11.3" fill="url(#re)"/></g>
<g transform="translate(687.4,945.0) rotate(90.00)"><rect x="0" y="-5.65" width="155.0" height="11.3" fill="url(#rg)"/><rect x="0" y="-5.65" width="155.0" height="11.3" fill="url(#re)"/></g>
<polygon points="399.8,643.9 1486.8,643.9 1463.8,665.6 375.8,665.6" fill="#158271"/>
<rect x="375.8" y="664.7" width="1088.0" height="19.3" fill="#1eac9a"/>
<polygon points="1463.8,665 1486.8,643.9 1486.8,661.9 1463.8,684" fill="#106b5d"/>
<circle cx="686" cy="892.2" r="54" fill="url(#prim)" stroke="#2a282b" stroke-width="1.2"/>
<circle cx="686" cy="892.2" r="43.2" fill="url(#pin)"/>
<circle cx="717.5" cy="900.3" r="7.2" fill="#fff" stroke="#5a585c" stroke-width="1.3"/>
<circle cx="702.5" cy="920.2" r="7.2" fill="#fff" stroke="#5a585c" stroke-width="1.3"/>
<circle cx="677.9" cy="923.7" r="7.2" fill="#fff" stroke="#5a585c" stroke-width="1.3"/>
<circle cx="658.0" cy="908.7" r="7.2" fill="#fff" stroke="#5a585c" stroke-width="1.3"/>
<circle cx="654.5" cy="884.1" r="7.2" fill="#fff" stroke="#5a585c" stroke-width="1.3"/>
<circle cx="669.5" cy="864.2" r="7.2" fill="#fff" stroke="#5a585c" stroke-width="1.3"/>
<circle cx="694.1" cy="860.7" r="7.2" fill="#fff" stroke="#5a585c" stroke-width="1.3"/>
<circle cx="714.0" cy="875.7" r="7.2" fill="#fff" stroke="#5a585c" stroke-width="1.3"/>
<circle cx="686" cy="892.2" r="17.5" fill="url(#phub)"/>
<circle cx="686" cy="892.2" r="7.5" fill="#77767a" stroke="#4a484c" stroke-width="1.2"/>
<circle cx="943" cy="775.6" r="54" fill="url(#prim)" stroke="#2a282b" stroke-width="1.2"/>
<circle cx="943" cy="775.6" r="43.2" fill="url(#pin)"/>
<circle cx="974.5" cy="783.7" r="7.2" fill="#fff" stroke="#5a585c" stroke-width="1.3"/>
<circle cx="959.5" cy="803.6" r="7.2" fill="#fff" stroke="#5a585c" stroke-width="1.3"/>
<circle cx="934.9" cy="807.1" r="7.2" fill="#fff" stroke="#5a585c" stroke-width="1.3"/>
<circle cx="915.0" cy="792.1" r="7.2" fill="#fff" stroke="#5a585c" stroke-width="1.3"/>
<circle cx="911.5" cy="767.5" r="7.2" fill="#fff" stroke="#5a585c" stroke-width="1.3"/>
<circle cx="926.5" cy="747.6" r="7.2" fill="#fff" stroke="#5a585c" stroke-width="1.3"/>
<circle cx="951.1" cy="744.1" r="7.2" fill="#fff" stroke="#5a585c" stroke-width="1.3"/>
<circle cx="971.0" cy="759.1" r="7.2" fill="#fff" stroke="#5a585c" stroke-width="1.3"/>
<circle cx="943" cy="775.6" r="17.5" fill="url(#phub)"/>
<circle cx="943" cy="775.6" r="7.5" fill="#77767a" stroke="#4a484c" stroke-width="1.2"/>
<path d="M952.3,684 L952.3,763.6 Q952.3,774.6 944,775.6" fill="none" stroke="#77767a" stroke-width="6.8" stroke-linecap="butt"/>
<path d="M952.3,684 L952.3,763.6 Q952.3,774.6 944,775.6" fill="none" stroke="#b0b0b2" stroke-width="3.6" stroke-linecap="butt"/>
<line x1="477" y1="947.4" x2="865.8" y2="947.4" stroke="#231f20" stroke-width="2.2" stroke-dasharray="7.2 4.6"/>
<line x1="1000.8" y1="909.1" x2="1390.7" y2="909.1" stroke="#231f20" stroke-width="2.2" stroke-dasharray="7.2 4.6"/>
<path d="M605.0,947.4 A80,80 0 0 1 619.5,901.5" fill="none" stroke="#231f20" stroke-width="2.2"/>
<path d="M766.0,947.4 A81,81 0 0 0 751.4,900.9" fill="none" stroke="#231f20" stroke-width="2.2"/>
<path d="M1127.7,909.1 A61,61 0 0 1 1140.3,872.0" fill="none" stroke="#231f20" stroke-width="2.2"/>
<path d="M1251.7,909.1 A63,63 0 0 0 1237.9,869.7" fill="none" stroke="#231f20" stroke-width="2.2"/>
<text x="539" y="936" font-size="39" text-anchor="start" letter-spacing="1.2">53°</text>
<text x="779.5" y="936" font-size="39" text-anchor="start" letter-spacing="1.2">53°</text>
<text x="1048.7" y="892.2" font-size="39" text-anchor="start" letter-spacing="1.2">30°</text>
<text x="1268.2" y="892.2" font-size="39" text-anchor="start" letter-spacing="1.2">30°</text>
<rect x="645.2" y="1099.5" width="85" height="85.7" fill="#f9cf3a"/>
<rect x="654.2" y="1108.5" width="67" height="67.7" fill="#f5c411"/>
<line x1="666.5" y1="1108.5" x2="666.5" y2="1176.2" stroke="#f8d24a" stroke-width="1"/>
<line x1="680.9" y1="1108.5" x2="680.9" y2="1176.2" stroke="#f8d24a" stroke-width="1"/>
<line x1="694.5" y1="1108.5" x2="694.5" y2="1176.2" stroke="#f8d24a" stroke-width="1"/>
<line x1="709.0" y1="1108.5" x2="709.0" y2="1176.2" stroke="#f8d24a" stroke-width="1"/>
<path d="M654.2,1108.5 L721.2,1176.2 M721.2,1108.5 L654.2,1176.2" stroke="#f9cf3a" stroke-width="9" fill="none"/>
<rect x="654.2" y="1108.5" width="67" height="67.7" fill="none" stroke="#f9cf3a" stroke-width="2"/>
<circle cx="649.2" cy="1103.5" r="1.3" fill="#7a5a20"/>
<circle cx="726.2" cy="1103.5" r="1.3" fill="#7a5a20"/>
<circle cx="649.2" cy="1181.2" r="1.3" fill="#7a5a20"/>
<circle cx="726.2" cy="1181.2" r="1.3" fill="#7a5a20"/>
<text x="687.7" y="1154.1" font-size="41" text-anchor="middle">X</text>
<rect x="1144.8" y="1099.5" width="85" height="85.7" fill="#f9cf3a"/>
<rect x="1153.8" y="1108.5" width="67" height="67.7" fill="#f5c411"/>
<line x1="1166.0" y1="1108.5" x2="1166.0" y2="1176.2" stroke="#f8d24a" stroke-width="1"/>
<line x1="1180.5" y1="1108.5" x2="1180.5" y2="1176.2" stroke="#f8d24a" stroke-width="1"/>
<line x1="1194.1" y1="1108.5" x2="1194.1" y2="1176.2" stroke="#f8d24a" stroke-width="1"/>
<line x1="1208.5" y1="1108.5" x2="1208.5" y2="1176.2" stroke="#f8d24a" stroke-width="1"/>
<path d="M1153.8,1108.5 L1220.8,1176.2 M1220.8,1108.5 L1153.8,1176.2" stroke="#f9cf3a" stroke-width="9" fill="none"/>
<rect x="1153.8" y="1108.5" width="67" height="67.7" fill="none" stroke="#f9cf3a" stroke-width="2"/>
<circle cx="1148.8" cy="1103.5" r="1.3" fill="#7a5a20"/>
<circle cx="1225.8" cy="1103.5" r="1.3" fill="#7a5a20"/>
<circle cx="1148.8" cy="1181.2" r="1.3" fill="#7a5a20"/>
<circle cx="1225.8" cy="1181.2" r="1.3" fill="#7a5a20"/>
<text x="1187.3" y="1154.1" font-size="41" text-anchor="middle">X</text>
<g transform="translate(922.0,1872.0) rotate(126.66)"><rect x="0" y="-4.75" width="460.2" height="9.5" fill="url(#rg)"/><rect x="0" y="-4.75" width="460.2" height="9.5" fill="url(#re)"/></g>
<g transform="translate(922.0,1872.0) rotate(35.02)"><rect x="0" y="-4.75" width="293.8" height="9.5" fill="url(#rg)"/><rect x="0" y="-4.75" width="293.8" height="9.5" fill="url(#re)"/></g>
<polygon points="511.3,1832 1377.8,1832 1354.8,1852.3 485.3,1852.3" fill="#158271"/>
<rect x="485.3" y="1851.4" width="869.5" height="20.599999999999955" fill="#1eac9a"/>
<polygon points="1354.8,1851.7 1377.8,1832 1377.8,1851.3 1354.8,1872" fill="#106b5d"/>
<g transform="translate(651,2249.6) rotate(-20.85)"><rect x="-6" y="-14.5" width="570.7" height="29" fill="url(#rod)"/></g>
<line x1="922" y1="1872" x2="922" y2="2171" stroke="#231f20" stroke-width="2.2" stroke-dasharray="8 6"/>
<line x1="922" y1="2171" x2="922" y2="2288" stroke="#231f20" stroke-width="2.4"/>
<path d="M913,2281 L922,2301.5 L931,2281 Q922,2287.5 913,2281Z" fill="#231f20"/>
<path d="M922.0,1936.6 A64.6,64.6 0 0 1 883.1,1923.6" fill="none" stroke="#231f20" stroke-width="2.2"/>
<path d="M922.0,1945.0 A73,73 0 0 0 980.3,1915.9" fill="none" stroke="#231f20" stroke-width="2.2"/>
<circle cx="790.5" cy="2047.3" r="6.7" fill="#231f20"/>
<circle cx="1044.5" cy="1961.3" r="6.7" fill="#231f20"/>
<text x="729.8" y="2027.6" font-size="40">T<tspan font-size="26.4" dy="13.2">1</tspan></text>
<text x="1076.6" y="1954.6" font-size="40">T<tspan font-size="26.4" dy="13.2">2</tspan></text>
<text x="858.2" y="1988.3" font-size="39" text-anchor="start" letter-spacing="1">37°</text>
<text x="940.2" y="1976" font-size="39" text-anchor="start" letter-spacing="1">53°</text>
<text x="606" y="2275" font-size="41" text-anchor="start" >K</text>
<text x="1187.5" y="2059.7" font-size="41" text-anchor="start" >L</text>
<text x="951.8" y="2302" font-size="40" text-anchor="start" >G</text>
<path d="M953,2265.4 L977,2265.4" stroke="#231f20" stroke-width="2"/><path d="M970,2260 L981,2265.4 L970,2271 L973,2265.4Z" fill="#231f20"/>
<line x1="883.1" y1="3059.6" x2="1060.4" y2="2871.7" stroke="#d81e5b" stroke-width="2.5"/>
<g transform="translate(1070.7,2860.8) rotate(-46.66)"><path d="M0,0 L-21,-8.5 L-16,0 L-21,8.5 Z" fill="#d81e5b"/></g>
<line x1="883.1" y1="3059.6" x2="1162.7" y2="3198.4" stroke="#d81e5b" stroke-width="2.5"/>
<g transform="translate(1176.1,3205.1) rotate(26.41)"><path d="M0,0 L-21,-8.5 L-16,0 L-21,8.5 Z" fill="#d81e5b"/></g>
<line x1="883.1" y1="3059.6" x2="618.0" y2="3126.2" stroke="#d81e5b" stroke-width="2.5"/>
<g transform="translate(603.5,3129.9) rotate(165.89)"><path d="M0,0 L-21,-8.5 L-16,0 L-21,8.5 Z" fill="#d81e5b"/></g>
<line x1="883.1" y1="3059.6" x2="1274.5" y2="2957" stroke="#231f20" stroke-width="2.2" stroke-dasharray="7 5"/>
<path d="M925.7,3014.5 A62,62 0 0 1 938.6,3087.2" fill="none" stroke="#231f20" stroke-width="2.2"/>
<circle cx="883.1" cy="3059.6" r="7.2" fill="#231f20"/>
<text x="849.5" y="3047" font-size="40" text-anchor="start" >O</text>
<text x="1077.7" y="2853.8" font-size="40">F<tspan font-size="26.4" dy="13.2">1</tspan></text>
<text x="1171.2" y="3249.3" font-size="40">F<tspan font-size="26.4" dy="13.2">2</tspan></text>
<text x="589.5" y="3170" font-size="40">F<tspan font-size="26.4" dy="13.2">3</tspan></text>
<text x="951" y="3022.4" font-size="40" style="font-family:'Liberation Serif',serif">α</text>
<text x="967.4" y="3078.6" font-size="40" style="font-family:'Liberation Serif',serif">θ</text>
<g transform="translate(2241.8,993.0) rotate(90.00)"><rect x="0" y="-5.65" width="27.0" height="11.3" fill="url(#rg)"/><rect x="0" y="-5.65" width="27.0" height="11.3" fill="url(#re)"/></g>
<path d="M2229.8,987.5 Q2240.5,999.5 2251.0,987.2" fill="none" stroke="#b98a3e" stroke-width="11.3"/>
<path d="M2229.8,987.5 Q2240.5,999.5 2251.0,987.2" fill="none" stroke="#e6c880" stroke-width="6.2" stroke-dasharray="2.6 2.8"/>
<g transform="translate(1922.0,684.0) rotate(44.59)"><rect x="0" y="-5.65" width="432.3" height="11.3" fill="url(#rg)"/><rect x="0" y="-5.65" width="432.3" height="11.3" fill="url(#re)"/></g>
<g transform="translate(2251.0,987.2) rotate(-45.82)"><rect x="0" y="-5.65" width="357.3" height="11.3" fill="url(#rg)"/><rect x="0" y="-5.65" width="357.3" height="11.3" fill="url(#re)"/></g>
<g transform="translate(2580.0,771.0) rotate(90.00)"><rect x="0" y="-5.65" width="319.0" height="11.3" fill="url(#rg)"/><rect x="0" y="-5.65" width="319.0" height="11.3" fill="url(#re)"/></g>
<polygon points="1865.6,643.9 2728.5,643.9 2707.5,664.9 1841.6,664.9" fill="#158271"/>
<rect x="1841.6" y="664.0" width="865.9000000000001" height="20.000000000000046" fill="#1eac9a"/>
<polygon points="2707.5,664.3 2728.5,643.9 2728.5,662.6 2707.5,684" fill="#106b5d"/>
<circle cx="2529.5" cy="771.7" r="54.5" fill="url(#prim)" stroke="#2a282b" stroke-width="1.2"/>
<circle cx="2529.5" cy="771.7" r="43.6" fill="url(#pin)"/>
<circle cx="2561.0" cy="779.8" r="7.2" fill="#fff" stroke="#5a585c" stroke-width="1.3"/>
<circle cx="2546.0" cy="799.7" r="7.2" fill="#fff" stroke="#5a585c" stroke-width="1.3"/>
<circle cx="2521.4" cy="803.2" r="7.2" fill="#fff" stroke="#5a585c" stroke-width="1.3"/>
<circle cx="2501.5" cy="788.2" r="7.2" fill="#fff" stroke="#5a585c" stroke-width="1.3"/>
<circle cx="2498.0" cy="763.6" r="7.2" fill="#fff" stroke="#5a585c" stroke-width="1.3"/>
<circle cx="2513.0" cy="743.7" r="7.2" fill="#fff" stroke="#5a585c" stroke-width="1.3"/>
<circle cx="2537.6" cy="740.2" r="7.2" fill="#fff" stroke="#5a585c" stroke-width="1.3"/>
<circle cx="2557.5" cy="755.2" r="7.2" fill="#fff" stroke="#5a585c" stroke-width="1.3"/>
<circle cx="2529.5" cy="771.7" r="17.5" fill="url(#phub)"/>
<circle cx="2529.5" cy="771.7" r="7.5" fill="#77767a" stroke="#4a484c" stroke-width="1.2"/>
<path d="M2540,684 L2540,759.7 Q2540,770.7 2530.5,771.7" fill="none" stroke="#77767a" stroke-width="6.8" stroke-linecap="butt"/>
<path d="M2540,684 L2540,759.7 Q2540,770.7 2530.5,771.7" fill="none" stroke="#b0b0b2" stroke-width="3.6" stroke-linecap="butt"/>
<circle cx="2073.4" cy="836.2" r="6.7" fill="#231f20"/>
<circle cx="2366.5" cy="873.5" r="6.7" fill="#231f20"/>
<text x="2091" y="824" font-size="40">T<tspan font-size="26.4" dy="13.2">1</tspan></text>
<text x="2314" y="850.7" font-size="40">T<tspan font-size="26.4" dy="13.2">2</tspan></text>
<g transform="translate(2241.8,1005.0) rotate(90.00)"><rect x="0" y="-5.65" width="99.0" height="11.3" fill="url(#rg)"/><rect x="0" y="-5.65" width="99.0" height="11.3" fill="url(#re)"/></g>
<g transform="translate(2241.8,1186.0) rotate(90.00)"><rect x="0" y="-5.65" width="86.0" height="11.3" fill="url(#rg)"/><rect x="0" y="-5.65" width="86.0" height="11.3" fill="url(#re)"/></g>
<rect x="2200.1" y="1102" width="85" height="85.7" fill="#f9cf3a"/>
<rect x="2209.1" y="1111" width="67" height="67.7" fill="#f5c411"/>
<line x1="2221.3" y1="1111" x2="2221.3" y2="1178.7" stroke="#f8d24a" stroke-width="1"/>
<line x1="2235.8" y1="1111" x2="2235.8" y2="1178.7" stroke="#f8d24a" stroke-width="1"/>
<line x1="2249.4" y1="1111" x2="2249.4" y2="1178.7" stroke="#f8d24a" stroke-width="1"/>
<line x1="2263.8" y1="1111" x2="2263.8" y2="1178.7" stroke="#f8d24a" stroke-width="1"/>
<path d="M2209.1,1111 L2276.1,1178.7 M2276.1,1111 L2209.1,1178.7" stroke="#f9cf3a" stroke-width="9" fill="none"/>
<rect x="2209.1" y="1111" width="67" height="67.7" fill="none" stroke="#f9cf3a" stroke-width="2"/>
<circle cx="2204.1" cy="1106" r="1.3" fill="#7a5a20"/>
<circle cx="2281.1" cy="1106" r="1.3" fill="#7a5a20"/>
<circle cx="2204.1" cy="1183.7" r="1.3" fill="#7a5a20"/>
<circle cx="2281.1" cy="1183.7" r="1.3" fill="#7a5a20"/>
<text x="2242.6" y="1156.6" font-size="41" text-anchor="middle">Y</text>
<rect x="2200.1" y="1270" width="85" height="85.7" fill="#f9cf3a"/>
<rect x="2209.1" y="1279" width="67" height="67.7" fill="#f5c411"/>
<line x1="2221.3" y1="1279" x2="2221.3" y2="1346.7" stroke="#f8d24a" stroke-width="1"/>
<line x1="2235.8" y1="1279" x2="2235.8" y2="1346.7" stroke="#f8d24a" stroke-width="1"/>
<line x1="2249.4" y1="1279" x2="2249.4" y2="1346.7" stroke="#f8d24a" stroke-width="1"/>
<line x1="2263.8" y1="1279" x2="2263.8" y2="1346.7" stroke="#f8d24a" stroke-width="1"/>
<path d="M2209.1,1279 L2276.1,1346.7 M2276.1,1279 L2209.1,1346.7" stroke="#f9cf3a" stroke-width="9" fill="none"/>
<rect x="2209.1" y="1279" width="67" height="67.7" fill="none" stroke="#f9cf3a" stroke-width="2"/>
<circle cx="2204.1" cy="1274" r="1.3" fill="#7a5a20"/>
<circle cx="2281.1" cy="1274" r="1.3" fill="#7a5a20"/>
<circle cx="2204.1" cy="1351.7" r="1.3" fill="#7a5a20"/>
<circle cx="2281.1" cy="1351.7" r="1.3" fill="#7a5a20"/>
<text x="2242.6" y="1324.6" font-size="41" text-anchor="middle">X</text>
<rect x="2538.5" y="1086.6" width="85" height="84" fill="#f9cf3a"/>
<rect x="2547.5" y="1095.6" width="67" height="66" fill="#f5c411"/>
<line x1="2559.8" y1="1095.6" x2="2559.8" y2="1161.6" stroke="#f8d24a" stroke-width="1"/>
<line x1="2574.2" y1="1095.6" x2="2574.2" y2="1161.6" stroke="#f8d24a" stroke-width="1"/>
<line x1="2587.8" y1="1095.6" x2="2587.8" y2="1161.6" stroke="#f8d24a" stroke-width="1"/>
<line x1="2602.2" y1="1095.6" x2="2602.2" y2="1161.6" stroke="#f8d24a" stroke-width="1"/>
<path d="M2547.5,1095.6 L2614.5,1161.6 M2614.5,1095.6 L2547.5,1161.6" stroke="#f9cf3a" stroke-width="9" fill="none"/>
<rect x="2547.5" y="1095.6" width="67" height="66" fill="none" stroke="#f9cf3a" stroke-width="2"/>
<circle cx="2542.5" cy="1090.6" r="1.3" fill="#7a5a20"/>
<circle cx="2619.5" cy="1090.6" r="1.3" fill="#7a5a20"/>
<circle cx="2542.5" cy="1166.6" r="1.3" fill="#7a5a20"/>
<circle cx="2619.5" cy="1166.6" r="1.3" fill="#7a5a20"/>
<text x="2581.0" y="1140.3" font-size="41" text-anchor="middle">Z</text>
<text x="2258.4" y="1241.6" font-size="41" text-anchor="start" >İp</text>
<g transform="translate(2241.8,2747.7) rotate(90.00)"><rect x="0" y="-5.65" width="27.0" height="11.3" fill="url(#rg)"/><rect x="0" y="-5.65" width="27.0" height="11.3" fill="url(#re)"/></g>
<path d="M2229.8,2742.2 Q2240.5,2754.2 2251.0,2741.9" fill="none" stroke="#b98a3e" stroke-width="11.3"/>
<path d="M2229.8,2742.2 Q2240.5,2754.2 2251.0,2741.9" fill="none" stroke="#e6c880" stroke-width="6.2" stroke-dasharray="2.6 2.8"/>
<g transform="translate(1922.0,2438.7) rotate(44.59)"><rect x="0" y="-5.65" width="432.3" height="11.3" fill="url(#rg)"/><rect x="0" y="-5.65" width="432.3" height="11.3" fill="url(#re)"/></g>
<g transform="translate(2251.0,2741.9) rotate(-45.82)"><rect x="0" y="-5.65" width="357.3" height="11.3" fill="url(#rg)"/><rect x="0" y="-5.65" width="357.3" height="11.3" fill="url(#re)"/></g>
<g transform="translate(2580.0,2525.7) rotate(90.00)"><rect x="0" y="-5.65" width="319.0" height="11.3" fill="url(#rg)"/><rect x="0" y="-5.65" width="319.0" height="11.3" fill="url(#re)"/></g>
<polygon points="1865.6,2398.6 2728.5,2398.6 2707.5,2419.6 1841.6,2419.6" fill="#158271"/>
<rect x="1841.6" y="2418.7" width="865.9000000000001" height="19.99999999999982" fill="#1eac9a"/>
<polygon points="2707.5,2419.0 2728.5,2398.6 2728.5,2417.2999999999997 2707.5,2438.7" fill="#106b5d"/>
<circle cx="2529.5" cy="2526.4" r="54.5" fill="url(#prim)" stroke="#2a282b" stroke-width="1.2"/>
<circle cx="2529.5" cy="2526.4" r="43.6" fill="url(#pin)"/>
<circle cx="2561.0" cy="2534.5" r="7.2" fill="#fff" stroke="#5a585c" stroke-width="1.3"/>
<circle cx="2546.0" cy="2554.4" r="7.2" fill="#fff" stroke="#5a585c" stroke-width="1.3"/>
<circle cx="2521.4" cy="2557.9" r="7.2" fill="#fff" stroke="#5a585c" stroke-width="1.3"/>
<circle cx="2501.5" cy="2542.9" r="7.2" fill="#fff" stroke="#5a585c" stroke-width="1.3"/>
<circle cx="2498.0" cy="2518.3" r="7.2" fill="#fff" stroke="#5a585c" stroke-width="1.3"/>
<circle cx="2513.0" cy="2498.4" r="7.2" fill="#fff" stroke="#5a585c" stroke-width="1.3"/>
<circle cx="2537.6" cy="2494.9" r="7.2" fill="#fff" stroke="#5a585c" stroke-width="1.3"/>
<circle cx="2557.5" cy="2509.9" r="7.2" fill="#fff" stroke="#5a585c" stroke-width="1.3"/>
<circle cx="2529.5" cy="2526.4" r="17.5" fill="url(#phub)"/>
<circle cx="2529.5" cy="2526.4" r="7.5" fill="#77767a" stroke="#4a484c" stroke-width="1.2"/>
<path d="M2540,2438.7 L2540,2514.4 Q2540,2525.4 2530.5,2526.4" fill="none" stroke="#77767a" stroke-width="6.8" stroke-linecap="butt"/>
<path d="M2540,2438.7 L2540,2514.4 Q2540,2525.4 2530.5,2526.4" fill="none" stroke="#b0b0b2" stroke-width="3.6" stroke-linecap="butt"/>
<circle cx="2073.4" cy="2590.9" r="6.7" fill="#231f20"/>
<circle cx="2366.5" cy="2628.2" r="6.7" fill="#231f20"/>
<text x="2091" y="2578.7" font-size="40">T<tspan font-size="26.4" dy="13.2">1</tspan></text>
<text x="2314" y="2605.4" font-size="40">T<tspan font-size="26.4" dy="13.2">2</tspan></text>
<g transform="translate(2241.8,2759.7) rotate(90.00)"><rect x="0" y="-5.65" width="149.3" height="11.3" fill="url(#rg)"/><rect x="0" y="-5.65" width="149.3" height="11.3" fill="url(#re)"/></g>
<rect x="2200.1" y="2907.5" width="85" height="84" fill="#f9cf3a"/>
<rect x="2209.1" y="2916.5" width="67" height="66" fill="#f5c411"/>
<line x1="2221.3" y1="2916.5" x2="2221.3" y2="2982.5" stroke="#f8d24a" stroke-width="1"/>
<line x1="2235.8" y1="2916.5" x2="2235.8" y2="2982.5" stroke="#f8d24a" stroke-width="1"/>
<line x1="2249.4" y1="2916.5" x2="2249.4" y2="2982.5" stroke="#f8d24a" stroke-width="1"/>
<line x1="2263.8" y1="2916.5" x2="2263.8" y2="2982.5" stroke="#f8d24a" stroke-width="1"/>
<path d="M2209.1,2916.5 L2276.1,2982.5 M2276.1,2916.5 L2209.1,2982.5" stroke="#f9cf3a" stroke-width="9" fill="none"/>
<rect x="2209.1" y="2916.5" width="67" height="66" fill="none" stroke="#f9cf3a" stroke-width="2"/>
<circle cx="2204.1" cy="2911.5" r="1.3" fill="#7a5a20"/>
<circle cx="2281.1" cy="2911.5" r="1.3" fill="#7a5a20"/>
<circle cx="2204.1" cy="2987.5" r="1.3" fill="#7a5a20"/>
<circle cx="2281.1" cy="2987.5" r="1.3" fill="#7a5a20"/>
<text x="2242.6" y="2961.2" font-size="41" text-anchor="middle">X</text>
<rect x="2538.5" y="2839.8" width="85" height="84.5" fill="#f9cf3a"/>
<rect x="2547.5" y="2848.8" width="67" height="66.5" fill="#f5c411"/>
<line x1="2559.8" y1="2848.8" x2="2559.8" y2="2915.3" stroke="#f8d24a" stroke-width="1"/>
<line x1="2574.2" y1="2848.8" x2="2574.2" y2="2915.3" stroke="#f8d24a" stroke-width="1"/>
<line x1="2587.8" y1="2848.8" x2="2587.8" y2="2915.3" stroke="#f8d24a" stroke-width="1"/>
<line x1="2602.2" y1="2848.8" x2="2602.2" y2="2915.3" stroke="#f8d24a" stroke-width="1"/>
<path d="M2547.5,2848.8 L2614.5,2915.3 M2614.5,2848.8 L2547.5,2915.3" stroke="#f9cf3a" stroke-width="9" fill="none"/>
<rect x="2547.5" y="2848.8" width="67" height="66.5" fill="none" stroke="#f9cf3a" stroke-width="2"/>
<circle cx="2542.5" cy="2843.8" r="1.3" fill="#7a5a20"/>
<circle cx="2619.5" cy="2843.8" r="1.3" fill="#7a5a20"/>
<circle cx="2542.5" cy="2920.3" r="1.3" fill="#7a5a20"/>
<circle cx="2619.5" cy="2920.3" r="1.3" fill="#7a5a20"/>
<text x="2581.0" y="2893.8" font-size="41" text-anchor="middle">Y</text>
</svg>
</body></html>
